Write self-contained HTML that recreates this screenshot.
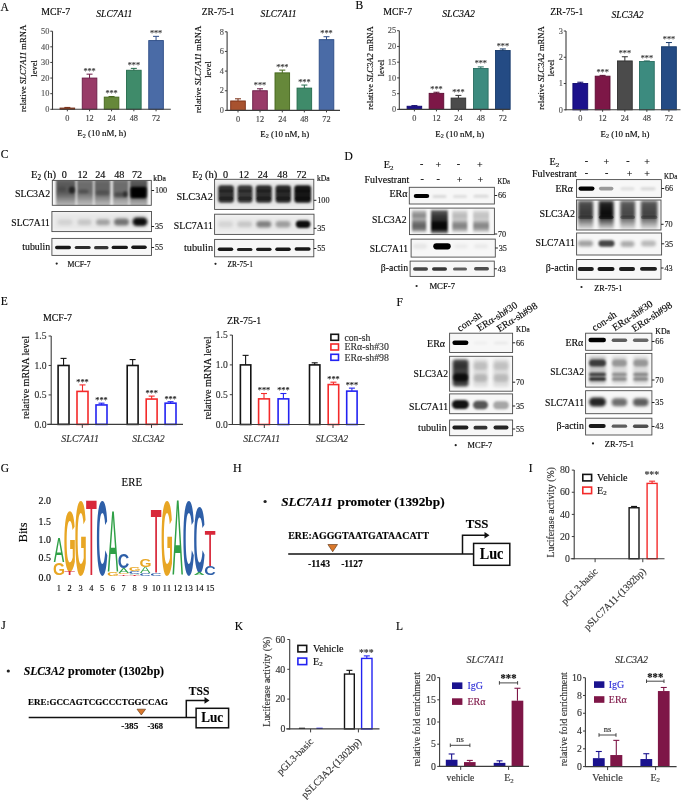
<!DOCTYPE html>
<html><head><meta charset="utf-8"><title>Figure</title>
<style>
html,body{margin:0;padding:0;background:#fff;width:685px;height:800px;overflow:hidden;}
svg{display:block;filter:blur(0.3px);}
text{font-family:"Liberation Serif", serif;}
</style></head>
<body>
<svg width="685" height="800" viewBox="0 0 685 800">
<defs>
<filter id="b05" x="-50%" y="-50%" width="200%" height="200%"><feGaussianBlur stdDeviation="0.5"/></filter>
<filter id="b1" x="-50%" y="-50%" width="200%" height="200%"><feGaussianBlur stdDeviation="1"/></filter>
<filter id="b15" x="-50%" y="-50%" width="200%" height="200%"><feGaussianBlur stdDeviation="1.5"/></filter>
<filter id="b2" x="-50%" y="-50%" width="200%" height="200%"><feGaussianBlur stdDeviation="2"/></filter>
<filter id="b3" x="-50%" y="-50%" width="200%" height="200%"><feGaussianBlur stdDeviation="3"/></filter>
</defs>
<rect width="685" height="800" fill="#fff"/>
<text x="0.60" y="10.80" font-size="11.5" stroke="#1a1a1a" stroke-width="0.15">A</text>
<text x="41.20" y="14.60" font-size="9.8" stroke="#1a1a1a" stroke-width="0.15">MCF-7</text>
<text x="96.30" y="17.20" font-size="10.8" font-style="italic" textLength="36.10" lengthAdjust="spacingAndGlyphs" stroke="#1a1a1a" stroke-width="0.15">SLC7A11</text>
<rect x="60.05" y="108.05" width="14.60" height="1.25" fill="#A8522F" stroke="#7A2E14" stroke-width="0.9" />
<line x1="67.35" y1="108.05" x2="67.35" y2="107.43" stroke="#7A2E14" stroke-width="1"/>
<line x1="64.35" y1="107.43" x2="70.35" y2="107.43" stroke="#7A2E14" stroke-width="1"/>
<rect x="82.25" y="78.06" width="14.60" height="31.24" fill="#983B68" stroke="#6A1C46" stroke-width="0.9" />
<line x1="89.55" y1="78.06" x2="89.55" y2="74.16" stroke="#6A1C46" stroke-width="1"/>
<line x1="86.55" y1="74.16" x2="92.55" y2="74.16" stroke="#6A1C46" stroke-width="1"/>
<text x="89.55" y="73.71" font-size="8.2" text-anchor="middle" fill="#3a3a3a" stroke="#3a3a3a" stroke-width="0.15">***</text>
<rect x="104.25" y="97.12" width="14.60" height="12.18" fill="#66883A" stroke="#44661C" stroke-width="0.9" />
<line x1="111.55" y1="97.12" x2="111.55" y2="96.49" stroke="#44661C" stroke-width="1"/>
<line x1="108.55" y1="96.49" x2="114.55" y2="96.49" stroke="#44661C" stroke-width="1"/>
<text x="111.55" y="96.05" font-size="8.2" text-anchor="middle" fill="#3a3a3a" stroke="#3a3a3a" stroke-width="0.15">***</text>
<rect x="126.55" y="70.25" width="14.60" height="39.05" fill="#3F8B6A" stroke="#236A4B" stroke-width="0.9" />
<line x1="133.85" y1="70.25" x2="133.85" y2="68.38" stroke="#236A4B" stroke-width="1"/>
<line x1="130.85" y1="68.38" x2="136.85" y2="68.38" stroke="#236A4B" stroke-width="1"/>
<text x="133.85" y="67.93" font-size="8.2" text-anchor="middle" fill="#3a3a3a" stroke="#3a3a3a" stroke-width="0.15">***</text>
<rect x="148.75" y="40.57" width="14.60" height="68.73" fill="#4A6BA6" stroke="#2C4C86" stroke-width="0.9" />
<line x1="156.05" y1="40.57" x2="156.05" y2="36.35" stroke="#2C4C86" stroke-width="1"/>
<line x1="153.05" y1="36.35" x2="159.05" y2="36.35" stroke="#2C4C86" stroke-width="1"/>
<text x="156.05" y="35.91" font-size="8.2" text-anchor="middle" fill="#3a3a3a" stroke="#3a3a3a" stroke-width="0.15">***</text>
<line x1="52.50" y1="109.80" x2="52.50" y2="31.20" stroke="#3c3c3c" stroke-width="1.1"/>
<line x1="52.00" y1="109.30" x2="170.80" y2="109.30" stroke="#3c3c3c" stroke-width="1.1"/>
<line x1="50.30" y1="109.30" x2="52.50" y2="109.30" stroke="#3c3c3c" stroke-width="1"/>
<text x="49.30" y="112.04" font-size="8.3" text-anchor="end" fill="#555" stroke="#555" stroke-width="0.15">0</text>
<line x1="50.30" y1="93.68" x2="52.50" y2="93.68" stroke="#3c3c3c" stroke-width="1"/>
<text x="49.30" y="96.42" font-size="8.3" text-anchor="end" fill="#555" stroke="#555" stroke-width="0.15">10</text>
<line x1="50.30" y1="78.06" x2="52.50" y2="78.06" stroke="#3c3c3c" stroke-width="1"/>
<text x="49.30" y="80.80" font-size="8.3" text-anchor="end" fill="#555" stroke="#555" stroke-width="0.15">20</text>
<line x1="50.30" y1="62.44" x2="52.50" y2="62.44" stroke="#3c3c3c" stroke-width="1"/>
<text x="49.30" y="65.18" font-size="8.3" text-anchor="end" fill="#555" stroke="#555" stroke-width="0.15">30</text>
<line x1="50.30" y1="46.82" x2="52.50" y2="46.82" stroke="#3c3c3c" stroke-width="1"/>
<text x="49.30" y="49.56" font-size="8.3" text-anchor="end" fill="#555" stroke="#555" stroke-width="0.15">40</text>
<line x1="50.30" y1="31.20" x2="52.50" y2="31.20" stroke="#3c3c3c" stroke-width="1"/>
<text x="49.30" y="33.94" font-size="8.3" text-anchor="end" fill="#555" stroke="#555" stroke-width="0.15">50</text>
<line x1="67.35" y1="109.30" x2="67.35" y2="111.30" stroke="#3c3c3c" stroke-width="1"/>
<text x="67.35" y="120.90" font-size="8.3" text-anchor="middle" fill="#444" stroke="#444" stroke-width="0.15">0</text>
<line x1="89.55" y1="109.30" x2="89.55" y2="111.30" stroke="#3c3c3c" stroke-width="1"/>
<text x="89.55" y="120.90" font-size="8.3" text-anchor="middle" fill="#444" stroke="#444" stroke-width="0.15">12</text>
<line x1="111.55" y1="109.30" x2="111.55" y2="111.30" stroke="#3c3c3c" stroke-width="1"/>
<text x="111.55" y="120.90" font-size="8.3" text-anchor="middle" fill="#444" stroke="#444" stroke-width="0.15">24</text>
<line x1="133.85" y1="109.30" x2="133.85" y2="111.30" stroke="#3c3c3c" stroke-width="1"/>
<text x="133.85" y="120.90" font-size="8.3" text-anchor="middle" fill="#444" stroke="#444" stroke-width="0.15">48</text>
<line x1="156.05" y1="109.30" x2="156.05" y2="111.30" stroke="#3c3c3c" stroke-width="1"/>
<text x="156.05" y="120.90" font-size="8.3" text-anchor="middle" fill="#444" stroke="#444" stroke-width="0.15">72</text>
<text x="26.40" y="68.40" font-size="8.6" text-anchor="middle" transform="rotate(-90 26.40 68.40)" stroke="#1a1a1a" stroke-width="0.15">relative <tspan font-style="italic">SLC7A11</tspan> mRNA</text>
<text x="37.20" y="68.40" font-size="8.6" text-anchor="middle" transform="rotate(-90 37.20 68.40)" stroke="#1a1a1a" stroke-width="0.15">level</text>
<text x="101.80" y="136.30" font-size="8.9" text-anchor="middle" stroke="#1a1a1a" stroke-width="0.15">E<tspan font-size="6.05" dy="1.51">2</tspan><tspan dy="-1.51"> (10 nM, h)</tspan></text>
<text x="201.80" y="15.40" font-size="9.8" textLength="32.80" lengthAdjust="spacingAndGlyphs" stroke="#1a1a1a" stroke-width="0.15">ZR-75-1</text>
<text x="260.60" y="17.40" font-size="10.8" font-style="italic" textLength="36.00" lengthAdjust="spacingAndGlyphs" stroke="#1a1a1a" stroke-width="0.15">SLC7A11</text>
<rect x="230.70" y="100.97" width="14.60" height="9.43" fill="#A8522F" stroke="#7A2E14" stroke-width="0.9" />
<line x1="238.00" y1="100.97" x2="238.00" y2="98.81" stroke="#7A2E14" stroke-width="1"/>
<line x1="235.00" y1="98.81" x2="241.00" y2="98.81" stroke="#7A2E14" stroke-width="1"/>
<rect x="252.70" y="90.75" width="14.60" height="19.65" fill="#983B68" stroke="#6A1C46" stroke-width="0.9" />
<line x1="260.00" y1="90.75" x2="260.00" y2="88.78" stroke="#6A1C46" stroke-width="1"/>
<line x1="257.00" y1="88.78" x2="263.00" y2="88.78" stroke="#6A1C46" stroke-width="1"/>
<text x="260.00" y="88.34" font-size="8.2" text-anchor="middle" fill="#3a3a3a" stroke="#3a3a3a" stroke-width="0.15">***</text>
<rect x="275.00" y="72.87" width="14.60" height="37.53" fill="#66883A" stroke="#44661C" stroke-width="0.9" />
<line x1="282.30" y1="72.87" x2="282.30" y2="70.12" stroke="#44661C" stroke-width="1"/>
<line x1="279.30" y1="70.12" x2="285.30" y2="70.12" stroke="#44661C" stroke-width="1"/>
<text x="282.30" y="69.67" font-size="8.2" text-anchor="middle" fill="#3a3a3a" stroke="#3a3a3a" stroke-width="0.15">***</text>
<rect x="297.05" y="88.10" width="14.60" height="22.30" fill="#3F8B6A" stroke="#236A4B" stroke-width="0.9" />
<line x1="304.35" y1="88.10" x2="304.35" y2="85.05" stroke="#236A4B" stroke-width="1"/>
<line x1="301.35" y1="85.05" x2="307.35" y2="85.05" stroke="#236A4B" stroke-width="1"/>
<text x="304.35" y="84.61" font-size="8.2" text-anchor="middle" fill="#3a3a3a" stroke="#3a3a3a" stroke-width="0.15">***</text>
<rect x="319.20" y="39.66" width="14.60" height="70.74" fill="#4A6BA6" stroke="#2C4C86" stroke-width="0.9" />
<line x1="326.50" y1="39.66" x2="326.50" y2="36.71" stroke="#2C4C86" stroke-width="1"/>
<line x1="323.50" y1="36.71" x2="329.50" y2="36.71" stroke="#2C4C86" stroke-width="1"/>
<text x="326.50" y="36.27" font-size="8.2" text-anchor="middle" fill="#3a3a3a" stroke="#3a3a3a" stroke-width="0.15">***</text>
<line x1="227.10" y1="110.90" x2="227.10" y2="31.80" stroke="#3c3c3c" stroke-width="1.1"/>
<line x1="226.60" y1="110.40" x2="340.00" y2="110.40" stroke="#3c3c3c" stroke-width="1.1"/>
<line x1="224.90" y1="110.40" x2="227.10" y2="110.40" stroke="#3c3c3c" stroke-width="1"/>
<text x="223.90" y="113.14" font-size="8.3" text-anchor="end" fill="#555" stroke="#555" stroke-width="0.15">0</text>
<line x1="224.90" y1="90.75" x2="227.10" y2="90.75" stroke="#3c3c3c" stroke-width="1"/>
<text x="223.90" y="93.49" font-size="8.3" text-anchor="end" fill="#555" stroke="#555" stroke-width="0.15">2</text>
<line x1="224.90" y1="71.10" x2="227.10" y2="71.10" stroke="#3c3c3c" stroke-width="1"/>
<text x="223.90" y="73.84" font-size="8.3" text-anchor="end" fill="#555" stroke="#555" stroke-width="0.15">4</text>
<line x1="224.90" y1="51.45" x2="227.10" y2="51.45" stroke="#3c3c3c" stroke-width="1"/>
<text x="223.90" y="54.19" font-size="8.3" text-anchor="end" fill="#555" stroke="#555" stroke-width="0.15">6</text>
<line x1="224.90" y1="31.80" x2="227.10" y2="31.80" stroke="#3c3c3c" stroke-width="1"/>
<text x="223.90" y="34.54" font-size="8.3" text-anchor="end" fill="#555" stroke="#555" stroke-width="0.15">8</text>
<line x1="238.00" y1="110.40" x2="238.00" y2="112.40" stroke="#3c3c3c" stroke-width="1"/>
<text x="238.00" y="121.60" font-size="8.3" text-anchor="middle" fill="#444" stroke="#444" stroke-width="0.15">0</text>
<line x1="260.00" y1="110.40" x2="260.00" y2="112.40" stroke="#3c3c3c" stroke-width="1"/>
<text x="260.00" y="121.60" font-size="8.3" text-anchor="middle" fill="#444" stroke="#444" stroke-width="0.15">12</text>
<line x1="282.30" y1="110.40" x2="282.30" y2="112.40" stroke="#3c3c3c" stroke-width="1"/>
<text x="282.30" y="121.60" font-size="8.3" text-anchor="middle" fill="#444" stroke="#444" stroke-width="0.15">24</text>
<line x1="304.35" y1="110.40" x2="304.35" y2="112.40" stroke="#3c3c3c" stroke-width="1"/>
<text x="304.35" y="121.60" font-size="8.3" text-anchor="middle" fill="#444" stroke="#444" stroke-width="0.15">48</text>
<line x1="326.50" y1="110.40" x2="326.50" y2="112.40" stroke="#3c3c3c" stroke-width="1"/>
<text x="326.50" y="121.60" font-size="8.3" text-anchor="middle" fill="#444" stroke="#444" stroke-width="0.15">72</text>
<text x="200.60" y="69.50" font-size="8.6" text-anchor="middle" transform="rotate(-90 200.60 69.50)" stroke="#1a1a1a" stroke-width="0.15">relative <tspan font-style="italic">SLC7A11</tspan> mRNA</text>
<text x="210.90" y="69.50" font-size="8.6" text-anchor="middle" transform="rotate(-90 210.90 69.50)" stroke="#1a1a1a" stroke-width="0.15">level</text>
<text x="284.80" y="136.50" font-size="8.9" text-anchor="middle" stroke="#1a1a1a" stroke-width="0.15">E<tspan font-size="6.05" dy="1.51">2</tspan><tspan dy="-1.51"> (10 nM, h)</tspan></text>
<text x="355.40" y="9.20" font-size="11.5" stroke="#1a1a1a" stroke-width="0.15">B</text>
<text x="383.20" y="15.30" font-size="9.8" stroke="#1a1a1a" stroke-width="0.15">MCF-7</text>
<text x="442.20" y="17.40" font-size="10.8" font-style="italic" textLength="32.70" lengthAdjust="spacingAndGlyphs" stroke="#1a1a1a" stroke-width="0.15">SLC3A2</text>
<rect x="407.10" y="106.25" width="14.60" height="3.15" fill="#1C118C" stroke="#10086E" stroke-width="0.9" />
<line x1="414.40" y1="106.25" x2="414.40" y2="105.62" stroke="#10086E" stroke-width="1"/>
<line x1="411.40" y1="105.62" x2="417.40" y2="105.62" stroke="#10086E" stroke-width="1"/>
<rect x="429.15" y="93.35" width="14.60" height="16.05" fill="#7D1747" stroke="#5C0C32" stroke-width="0.9" />
<line x1="436.45" y1="93.35" x2="436.45" y2="92.24" stroke="#5C0C32" stroke-width="1"/>
<line x1="433.45" y1="92.24" x2="439.45" y2="92.24" stroke="#5C0C32" stroke-width="1"/>
<text x="436.45" y="91.80" font-size="8.2" text-anchor="middle" fill="#3a3a3a" stroke="#3a3a3a" stroke-width="0.15">***</text>
<rect x="451.10" y="98.07" width="14.60" height="11.33" fill="#4B4B4B" stroke="#303030" stroke-width="0.9" />
<line x1="458.40" y1="98.07" x2="458.40" y2="95.39" stroke="#303030" stroke-width="1"/>
<line x1="455.40" y1="95.39" x2="461.40" y2="95.39" stroke="#303030" stroke-width="1"/>
<text x="458.40" y="94.95" font-size="8.2" text-anchor="middle" fill="#3a3a3a" stroke="#3a3a3a" stroke-width="0.15">***</text>
<rect x="473.50" y="68.48" width="14.60" height="40.92" fill="#3C8B7F" stroke="#2A6E62" stroke-width="0.9" />
<line x1="480.80" y1="68.48" x2="480.80" y2="66.90" stroke="#2A6E62" stroke-width="1"/>
<line x1="477.80" y1="66.90" x2="483.80" y2="66.90" stroke="#2A6E62" stroke-width="1"/>
<text x="480.80" y="66.46" font-size="8.2" text-anchor="middle" fill="#3a3a3a" stroke="#3a3a3a" stroke-width="0.15">***</text>
<rect x="495.55" y="50.53" width="14.60" height="58.87" fill="#244B84" stroke="#173A6A" stroke-width="0.9" />
<line x1="502.85" y1="50.53" x2="502.85" y2="48.96" stroke="#173A6A" stroke-width="1"/>
<line x1="499.85" y1="48.96" x2="505.85" y2="48.96" stroke="#173A6A" stroke-width="1"/>
<text x="502.85" y="48.51" font-size="8.2" text-anchor="middle" fill="#3a3a3a" stroke="#3a3a3a" stroke-width="0.15">***</text>
<line x1="399.30" y1="109.90" x2="399.30" y2="30.70" stroke="#3c3c3c" stroke-width="1.1"/>
<line x1="398.80" y1="109.40" x2="509.70" y2="109.40" stroke="#3c3c3c" stroke-width="1.1"/>
<line x1="397.10" y1="109.40" x2="399.30" y2="109.40" stroke="#3c3c3c" stroke-width="1"/>
<text x="396.10" y="112.14" font-size="8.3" text-anchor="end" fill="#555" stroke="#555" stroke-width="0.15">0</text>
<line x1="397.10" y1="93.66" x2="399.30" y2="93.66" stroke="#3c3c3c" stroke-width="1"/>
<text x="396.10" y="96.40" font-size="8.3" text-anchor="end" fill="#555" stroke="#555" stroke-width="0.15">5</text>
<line x1="397.10" y1="77.92" x2="399.30" y2="77.92" stroke="#3c3c3c" stroke-width="1"/>
<text x="396.10" y="80.66" font-size="8.3" text-anchor="end" fill="#555" stroke="#555" stroke-width="0.15">10</text>
<line x1="397.10" y1="62.18" x2="399.30" y2="62.18" stroke="#3c3c3c" stroke-width="1"/>
<text x="396.10" y="64.92" font-size="8.3" text-anchor="end" fill="#555" stroke="#555" stroke-width="0.15">15</text>
<line x1="397.10" y1="46.44" x2="399.30" y2="46.44" stroke="#3c3c3c" stroke-width="1"/>
<text x="396.10" y="49.18" font-size="8.3" text-anchor="end" fill="#555" stroke="#555" stroke-width="0.15">20</text>
<line x1="397.10" y1="30.70" x2="399.30" y2="30.70" stroke="#3c3c3c" stroke-width="1"/>
<text x="396.10" y="33.44" font-size="8.3" text-anchor="end" fill="#555" stroke="#555" stroke-width="0.15">25</text>
<line x1="414.40" y1="109.40" x2="414.40" y2="111.40" stroke="#3c3c3c" stroke-width="1"/>
<text x="414.40" y="120.50" font-size="8.3" text-anchor="middle" fill="#444" stroke="#444" stroke-width="0.15">0</text>
<line x1="436.45" y1="109.40" x2="436.45" y2="111.40" stroke="#3c3c3c" stroke-width="1"/>
<text x="436.45" y="120.50" font-size="8.3" text-anchor="middle" fill="#444" stroke="#444" stroke-width="0.15">12</text>
<line x1="458.40" y1="109.40" x2="458.40" y2="111.40" stroke="#3c3c3c" stroke-width="1"/>
<text x="458.40" y="120.50" font-size="8.3" text-anchor="middle" fill="#444" stroke="#444" stroke-width="0.15">24</text>
<line x1="480.80" y1="109.40" x2="480.80" y2="111.40" stroke="#3c3c3c" stroke-width="1"/>
<text x="480.80" y="120.50" font-size="8.3" text-anchor="middle" fill="#444" stroke="#444" stroke-width="0.15">48</text>
<line x1="502.85" y1="109.40" x2="502.85" y2="111.40" stroke="#3c3c3c" stroke-width="1"/>
<text x="502.85" y="120.50" font-size="8.3" text-anchor="middle" fill="#444" stroke="#444" stroke-width="0.15">72</text>
<text x="372.80" y="68.00" font-size="8.6" text-anchor="middle" transform="rotate(-90 372.80 68.00)" stroke="#1a1a1a" stroke-width="0.15">relative <tspan font-style="italic">SLC3A2</tspan> mRNA</text>
<text x="383.80" y="68.00" font-size="8.6" text-anchor="middle" transform="rotate(-90 383.80 68.00)" stroke="#1a1a1a" stroke-width="0.15">level</text>
<text x="459.80" y="136.70" font-size="8.9" text-anchor="middle" stroke="#1a1a1a" stroke-width="0.15">E<tspan font-size="6.05" dy="1.51">2</tspan><tspan dy="-1.51"> (10 nM, h)</tspan></text>
<text x="550.20" y="15.20" font-size="9.8" textLength="33.10" lengthAdjust="spacingAndGlyphs" stroke="#1a1a1a" stroke-width="0.15">ZR-75-1</text>
<text x="611.40" y="17.90" font-size="10.8" font-style="italic" textLength="32.30" lengthAdjust="spacingAndGlyphs" stroke="#1a1a1a" stroke-width="0.15">SLC3A2</text>
<rect x="572.90" y="83.53" width="14.80" height="26.27" fill="#1C118C" stroke="#10086E" stroke-width="0.9" />
<line x1="580.30" y1="83.53" x2="580.30" y2="82.22" stroke="#10086E" stroke-width="1"/>
<line x1="577.30" y1="82.22" x2="583.30" y2="82.22" stroke="#10086E" stroke-width="1"/>
<rect x="595.20" y="76.18" width="14.80" height="33.62" fill="#7D1747" stroke="#5C0C32" stroke-width="0.9" />
<line x1="602.60" y1="76.18" x2="602.60" y2="75.39" stroke="#5C0C32" stroke-width="1"/>
<line x1="599.60" y1="75.39" x2="605.60" y2="75.39" stroke="#5C0C32" stroke-width="1"/>
<text x="602.60" y="74.94" font-size="8.2" text-anchor="middle" fill="#3a3a3a" stroke="#3a3a3a" stroke-width="0.15">***</text>
<rect x="617.45" y="60.94" width="14.80" height="48.86" fill="#4B4B4B" stroke="#303030" stroke-width="0.9" />
<line x1="624.85" y1="60.94" x2="624.85" y2="56.74" stroke="#303030" stroke-width="1"/>
<line x1="621.85" y1="56.74" x2="627.85" y2="56.74" stroke="#303030" stroke-width="1"/>
<text x="624.85" y="56.30" font-size="8.2" text-anchor="middle" fill="#3a3a3a" stroke="#3a3a3a" stroke-width="0.15">***</text>
<rect x="639.45" y="61.47" width="14.80" height="48.33" fill="#3C8B7F" stroke="#2A6E62" stroke-width="0.9" />
<line x1="646.85" y1="61.47" x2="646.85" y2="60.94" stroke="#2A6E62" stroke-width="1"/>
<line x1="643.85" y1="60.94" x2="649.85" y2="60.94" stroke="#2A6E62" stroke-width="1"/>
<text x="646.85" y="60.50" font-size="8.2" text-anchor="middle" fill="#3a3a3a" stroke="#3a3a3a" stroke-width="0.15">***</text>
<rect x="661.55" y="46.76" width="14.80" height="63.04" fill="#244B84" stroke="#173A6A" stroke-width="0.9" />
<line x1="668.95" y1="46.76" x2="668.95" y2="42.56" stroke="#173A6A" stroke-width="1"/>
<line x1="665.95" y1="42.56" x2="671.95" y2="42.56" stroke="#173A6A" stroke-width="1"/>
<text x="668.95" y="42.11" font-size="8.2" text-anchor="middle" fill="#3a3a3a" stroke="#3a3a3a" stroke-width="0.15">***</text>
<line x1="566.00" y1="110.30" x2="566.00" y2="31.00" stroke="#3c3c3c" stroke-width="1.1"/>
<line x1="565.50" y1="109.80" x2="680.50" y2="109.80" stroke="#3c3c3c" stroke-width="1.1"/>
<line x1="563.80" y1="109.80" x2="566.00" y2="109.80" stroke="#3c3c3c" stroke-width="1"/>
<text x="562.80" y="112.54" font-size="8.3" text-anchor="end" fill="#555" stroke="#555" stroke-width="0.15">0</text>
<line x1="563.80" y1="83.53" x2="566.00" y2="83.53" stroke="#3c3c3c" stroke-width="1"/>
<text x="562.80" y="86.27" font-size="8.3" text-anchor="end" fill="#555" stroke="#555" stroke-width="0.15">1</text>
<line x1="563.80" y1="57.27" x2="566.00" y2="57.27" stroke="#3c3c3c" stroke-width="1"/>
<text x="562.80" y="60.01" font-size="8.3" text-anchor="end" fill="#555" stroke="#555" stroke-width="0.15">2</text>
<line x1="563.80" y1="31.00" x2="566.00" y2="31.00" stroke="#3c3c3c" stroke-width="1"/>
<text x="562.80" y="33.74" font-size="8.3" text-anchor="end" fill="#555" stroke="#555" stroke-width="0.15">3</text>
<line x1="580.30" y1="109.80" x2="580.30" y2="111.80" stroke="#3c3c3c" stroke-width="1"/>
<text x="580.30" y="121.20" font-size="8.3" text-anchor="middle" fill="#444" stroke="#444" stroke-width="0.15">0</text>
<line x1="602.60" y1="109.80" x2="602.60" y2="111.80" stroke="#3c3c3c" stroke-width="1"/>
<text x="602.60" y="121.20" font-size="8.3" text-anchor="middle" fill="#444" stroke="#444" stroke-width="0.15">12</text>
<line x1="624.85" y1="109.80" x2="624.85" y2="111.80" stroke="#3c3c3c" stroke-width="1"/>
<text x="624.85" y="121.20" font-size="8.3" text-anchor="middle" fill="#444" stroke="#444" stroke-width="0.15">24</text>
<line x1="646.85" y1="109.80" x2="646.85" y2="111.80" stroke="#3c3c3c" stroke-width="1"/>
<text x="646.85" y="121.20" font-size="8.3" text-anchor="middle" fill="#444" stroke="#444" stroke-width="0.15">48</text>
<line x1="668.95" y1="109.80" x2="668.95" y2="111.80" stroke="#3c3c3c" stroke-width="1"/>
<text x="668.95" y="121.20" font-size="8.3" text-anchor="middle" fill="#444" stroke="#444" stroke-width="0.15">72</text>
<text x="544.40" y="68.00" font-size="8.6" text-anchor="middle" transform="rotate(-90 544.40 68.00)" stroke="#1a1a1a" stroke-width="0.15">relative <tspan font-style="italic">SLC3A2</tspan> mRNA</text>
<text x="553.60" y="68.00" font-size="8.6" text-anchor="middle" transform="rotate(-90 553.60 68.00)" stroke="#1a1a1a" stroke-width="0.15">level</text>
<text x="625.00" y="136.60" font-size="8.9" text-anchor="middle" stroke="#1a1a1a" stroke-width="0.15">E<tspan font-size="6.05" dy="1.51">2</tspan><tspan dy="-1.51"> (10 nM, h)</tspan></text>
<text x="0.80" y="158.40" font-size="11.5" stroke="#1a1a1a" stroke-width="0.15">C</text>
<text x="31.00" y="178.00" font-size="10.6" stroke="#1a1a1a" stroke-width="0.15">E<tspan font-size="7.21" dy="1.80">2</tspan><tspan dy="-1.80"> (h)</tspan></text>
<text x="64.30" y="178.00" font-size="10.2" text-anchor="middle" stroke="#1a1a1a" stroke-width="0.15">0</text>
<text x="82.50" y="178.00" font-size="10.2" text-anchor="middle" stroke="#1a1a1a" stroke-width="0.15">12</text>
<text x="100.30" y="178.00" font-size="10.2" text-anchor="middle" stroke="#1a1a1a" stroke-width="0.15">24</text>
<text x="119.30" y="178.00" font-size="10.2" text-anchor="middle" stroke="#1a1a1a" stroke-width="0.15">48</text>
<text x="137.00" y="178.00" font-size="10.2" text-anchor="middle" stroke="#1a1a1a" stroke-width="0.15">72</text>
<text x="153.30" y="180.90" font-size="7.8" textLength="12.70" lengthAdjust="spacingAndGlyphs" stroke="#1a1a1a" stroke-width="0.15">kDa</text>
<clipPath id="cl1"><rect x="52.30" y="180.40" width="99.00" height="24.90"/></clipPath>
<g clip-path="url(#cl1)">
<rect x="52.30" y="180.40" width="99.00" height="24.90" fill="#f7f7f7" stroke="none" stroke-width="1" />
<linearGradient id="lg2" x1="0" y1="0" x2="0" y2="1"><stop offset="0.000" stop-color="#000" stop-opacity="0.544"/><stop offset="0.150" stop-color="#000" stop-opacity="0.640"/><stop offset="0.500" stop-color="#000" stop-opacity="0.640"/><stop offset="0.650" stop-color="#000" stop-opacity="0.512"/><stop offset="0.820" stop-color="#000" stop-opacity="0.352"/><stop offset="1.000" stop-color="#000" stop-opacity="0.224"/></linearGradient>
<rect x="56.00" y="179.00" width="19.60" height="28.00" fill="url(#lg2)" filter="url(#b1)"/>
<linearGradient id="lg3" x1="0" y1="0" x2="0" y2="1"><stop offset="0.000" stop-color="#000" stop-opacity="0.476"/><stop offset="0.150" stop-color="#000" stop-opacity="0.560"/><stop offset="0.500" stop-color="#000" stop-opacity="0.560"/><stop offset="0.650" stop-color="#000" stop-opacity="0.448"/><stop offset="0.820" stop-color="#000" stop-opacity="0.308"/><stop offset="1.000" stop-color="#000" stop-opacity="0.196"/></linearGradient>
<rect x="76.90" y="179.00" width="16.30" height="28.00" fill="url(#lg3)" filter="url(#b1)"/>
<linearGradient id="lg4" x1="0" y1="0" x2="0" y2="1"><stop offset="0.000" stop-color="#000" stop-opacity="0.510"/><stop offset="0.150" stop-color="#000" stop-opacity="0.600"/><stop offset="0.500" stop-color="#000" stop-opacity="0.600"/><stop offset="0.650" stop-color="#000" stop-opacity="0.480"/><stop offset="0.820" stop-color="#000" stop-opacity="0.330"/><stop offset="1.000" stop-color="#000" stop-opacity="0.210"/></linearGradient>
<rect x="94.50" y="179.00" width="16.00" height="28.00" fill="url(#lg4)" filter="url(#b1)"/>
<linearGradient id="lg5" x1="0" y1="0" x2="0" y2="1"><stop offset="0.000" stop-color="#000" stop-opacity="0.476"/><stop offset="0.150" stop-color="#000" stop-opacity="0.560"/><stop offset="0.500" stop-color="#000" stop-opacity="0.560"/><stop offset="0.650" stop-color="#000" stop-opacity="0.448"/><stop offset="0.820" stop-color="#000" stop-opacity="0.308"/><stop offset="1.000" stop-color="#000" stop-opacity="0.196"/></linearGradient>
<rect x="112.80" y="179.00" width="15.80" height="28.00" fill="url(#lg5)" filter="url(#b1)"/>
<linearGradient id="lg6" x1="0" y1="0" x2="0" y2="1"><stop offset="0.000" stop-color="#000" stop-opacity="0.561"/><stop offset="0.150" stop-color="#000" stop-opacity="0.660"/><stop offset="0.500" stop-color="#000" stop-opacity="0.660"/><stop offset="0.650" stop-color="#000" stop-opacity="0.528"/><stop offset="0.820" stop-color="#000" stop-opacity="0.363"/><stop offset="1.000" stop-color="#000" stop-opacity="0.231"/></linearGradient>
<rect x="129.70" y="179.00" width="17.70" height="28.00" fill="url(#lg6)" filter="url(#b1)"/>
<rect x="68.90" y="186.50" width="6.00" height="7.00" rx="3.00" fill="#000" fill-opacity="0.6" filter="url(#b1)"/>
<rect x="58.00" y="186.50" width="8.00" height="5.00" rx="2.50" fill="#000" fill-opacity="0.15" filter="url(#b1)"/>
<rect x="78.50" y="189.50" width="10.00" height="4.00" rx="2.00" fill="#000" fill-opacity="0.25" filter="url(#b1)"/>
<rect x="96.00" y="190.50" width="13.00" height="5.00" rx="2.50" fill="#000" fill-opacity="0.2" filter="url(#b1)"/>
<rect x="114.20" y="192.50" width="13.00" height="5.00" rx="2.50" fill="#000" fill-opacity="0.35" filter="url(#b1)"/>
<rect x="123.30" y="191.00" width="4.00" height="6.00" rx="2.00" fill="#000" fill-opacity="0.45" filter="url(#b1)"/>
<rect x="130.50" y="186.65" width="16.00" height="11.50" rx="2.00" fill="#000" fill-opacity="0.97" filter="url(#b1)"/>
<rect x="132.50" y="188.40" width="12.00" height="8.00" rx="4.00" fill="#000" fill-opacity="0.6" filter="url(#b05)"/>
</g>
<rect x="52.30" y="180.40" width="99.00" height="24.90" fill="none" stroke="#4a4a4a" stroke-width="0.9" />
<clipPath id="cl7"><rect x="51.90" y="211.50" width="99.60" height="20.10"/></clipPath>
<g clip-path="url(#cl7)">
<rect x="51.90" y="211.50" width="99.60" height="20.10" fill="#f7f7f7" stroke="none" stroke-width="1" />
<rect x="52.00" y="212.50" width="96.00" height="18.00" rx="2.00" fill="#000" fill-opacity="0.06" filter="url(#b2)"/>
<rect x="57.50" y="219.20" width="15.00" height="6.00" rx="3.00" fill="#000" fill-opacity="0.09" filter="url(#b15)"/>
<rect x="77.50" y="219.20" width="14.00" height="6.00" rx="3.00" fill="#000" fill-opacity="0.14" filter="url(#b15)"/>
<rect x="96.00" y="219.20" width="14.00" height="6.00" rx="3.00" fill="#000" fill-opacity="0.3" filter="url(#b15)"/>
<rect x="114.00" y="218.50" width="15.00" height="7.00" rx="3.50" fill="#000" fill-opacity="0.5" filter="url(#b15)"/>
<rect x="132.50" y="217.45" width="15.00" height="8.50" rx="4.25" fill="#000" fill-opacity="0.95" filter="url(#b15)"/>
</g>
<rect x="51.90" y="211.50" width="99.60" height="20.10" fill="none" stroke="#4a4a4a" stroke-width="0.9" />
<clipPath id="cl8"><rect x="51.90" y="238.40" width="99.60" height="17.00"/></clipPath>
<g clip-path="url(#cl8)">
<rect x="51.90" y="238.40" width="99.60" height="17.00" fill="#f7f7f7" stroke="none" stroke-width="1" />
<rect x="55.00" y="245.80" width="16.00" height="3.40" rx="1.70" fill="#000" fill-opacity="0.9" filter="url(#b05)"/>
<rect x="74.70" y="245.90" width="16.00" height="3.20" rx="1.60" fill="#000" fill-opacity="0.82" filter="url(#b05)"/>
<rect x="94.05" y="246.10" width="14.50" height="3.20" rx="1.60" fill="#000" fill-opacity="0.78" filter="url(#b05)"/>
<rect x="111.60" y="245.70" width="16.40" height="3.40" rx="1.70" fill="#000" fill-opacity="0.9" filter="url(#b05)"/>
<rect x="131.25" y="245.45" width="15.50" height="3.50" rx="1.75" fill="#000" fill-opacity="0.9" filter="url(#b05)"/>
</g>
<rect x="51.90" y="238.40" width="99.60" height="17.00" fill="none" stroke="#4a4a4a" stroke-width="0.9" />
<text x="50.20" y="196.90" font-size="11.0" text-anchor="end" textLength="35.30" lengthAdjust="spacingAndGlyphs" stroke="#1a1a1a" stroke-width="0.15">SLC3A2</text>
<text x="49.90" y="225.90" font-size="11.0" text-anchor="end" textLength="38.60" lengthAdjust="spacingAndGlyphs" stroke="#1a1a1a" stroke-width="0.15">SLC7A11</text>
<text x="50.20" y="250.00" font-size="10.6" text-anchor="end" textLength="27.90" lengthAdjust="spacingAndGlyphs" stroke="#1a1a1a" stroke-width="0.15">tubulin</text>
<line x1="151.50" y1="190.50" x2="154.10" y2="190.50" stroke="#222" stroke-width="1.0"/>
<text x="154.90" y="193.21" font-size="8.2" fill="#222" stroke="#222" stroke-width="0.15">100</text>
<line x1="151.50" y1="226.50" x2="154.10" y2="226.50" stroke="#222" stroke-width="1.0"/>
<text x="154.90" y="229.21" font-size="8.2" fill="#222" stroke="#222" stroke-width="0.15">35</text>
<line x1="151.50" y1="247.50" x2="154.10" y2="247.50" stroke="#222" stroke-width="1.0"/>
<text x="154.90" y="250.21" font-size="8.2" fill="#222" stroke="#222" stroke-width="0.15">55</text>
<circle cx="56.70" cy="263.60" r="1.1" fill="#222"/>
<text x="67.60" y="266.60" font-size="7.4" textLength="23.00" lengthAdjust="spacingAndGlyphs" stroke="#1a1a1a" stroke-width="0.15">MCF-7</text>
<text x="192.30" y="177.80" font-size="10.6" stroke="#1a1a1a" stroke-width="0.15">E<tspan font-size="7.21" dy="1.80">2</tspan><tspan dy="-1.80"> (h)</tspan></text>
<text x="225.60" y="177.80" font-size="10.2" text-anchor="middle" stroke="#1a1a1a" stroke-width="0.15">0</text>
<text x="243.90" y="177.80" font-size="10.2" text-anchor="middle" stroke="#1a1a1a" stroke-width="0.15">12</text>
<text x="262.80" y="177.80" font-size="10.2" text-anchor="middle" stroke="#1a1a1a" stroke-width="0.15">24</text>
<text x="282.40" y="177.80" font-size="10.2" text-anchor="middle" stroke="#1a1a1a" stroke-width="0.15">48</text>
<text x="301.60" y="177.80" font-size="10.2" text-anchor="middle" stroke="#1a1a1a" stroke-width="0.15">72</text>
<text x="316.90" y="180.60" font-size="7.8" textLength="12.80" lengthAdjust="spacingAndGlyphs" stroke="#1a1a1a" stroke-width="0.15">kDa</text>
<clipPath id="cl9"><rect x="214.60" y="179.30" width="99.20" height="30.10"/></clipPath>
<g clip-path="url(#cl9)">
<rect x="214.60" y="179.30" width="99.20" height="30.10" fill="#f7f7f7" stroke="none" stroke-width="1" />
<linearGradient id="lg10" x1="0" y1="0" x2="0" y2="1"><stop offset="0.000" stop-color="#000" stop-opacity="0.030"/><stop offset="0.200" stop-color="#000" stop-opacity="0.100"/><stop offset="0.700" stop-color="#000" stop-opacity="0.100"/><stop offset="1.000" stop-color="#000" stop-opacity="0.030"/></linearGradient>
<rect x="214.60" y="181.00" width="99.20" height="28.00" fill="url(#lg10)" filter="url(#b2)"/>
<rect x="218.20" y="185.25" width="15.70" height="17.50" rx="3.00" fill="#000" fill-opacity="0.78" filter="url(#b1)"/>
<rect x="219.20" y="189.50" width="13.70" height="3.00" rx="1.50" fill="#000" fill-opacity="0.25" filter="url(#b05)"/>
<rect x="219.20" y="196.60" width="13.70" height="3.40" rx="1.70" fill="#000" fill-opacity="0.3" filter="url(#b05)"/>
<rect x="237.50" y="185.25" width="15.00" height="17.50" rx="3.00" fill="#000" fill-opacity="0.75" filter="url(#b1)"/>
<rect x="238.50" y="189.50" width="13.00" height="3.00" rx="1.50" fill="#000" fill-opacity="0.25" filter="url(#b05)"/>
<rect x="238.50" y="196.60" width="13.00" height="3.40" rx="1.70" fill="#000" fill-opacity="0.3" filter="url(#b05)"/>
<rect x="255.80" y="185.25" width="16.00" height="17.50" rx="3.00" fill="#000" fill-opacity="0.8" filter="url(#b1)"/>
<rect x="256.80" y="189.50" width="14.00" height="3.00" rx="1.50" fill="#000" fill-opacity="0.25" filter="url(#b05)"/>
<rect x="256.80" y="196.60" width="14.00" height="3.40" rx="1.70" fill="#000" fill-opacity="0.3" filter="url(#b05)"/>
<rect x="275.50" y="185.25" width="15.50" height="17.50" rx="3.00" fill="#000" fill-opacity="0.82" filter="url(#b1)"/>
<rect x="276.50" y="189.50" width="13.50" height="3.00" rx="1.50" fill="#000" fill-opacity="0.25" filter="url(#b05)"/>
<rect x="276.50" y="196.60" width="13.50" height="3.40" rx="1.70" fill="#000" fill-opacity="0.3" filter="url(#b05)"/>
<rect x="294.30" y="185.25" width="16.80" height="17.50" rx="3.00" fill="#000" fill-opacity="0.9" filter="url(#b1)"/>
<rect x="295.30" y="189.50" width="14.80" height="3.00" rx="1.50" fill="#000" fill-opacity="0.25" filter="url(#b05)"/>
<rect x="295.30" y="196.60" width="14.80" height="3.40" rx="1.70" fill="#000" fill-opacity="0.3" filter="url(#b05)"/>
</g>
<rect x="214.60" y="179.30" width="99.20" height="30.10" fill="none" stroke="#4a4a4a" stroke-width="0.9" />
<clipPath id="cl11"><rect x="214.60" y="214.20" width="99.40" height="20.20"/></clipPath>
<g clip-path="url(#cl11)">
<rect x="214.60" y="214.20" width="99.40" height="20.20" fill="#f7f7f7" stroke="none" stroke-width="1" />
<rect x="216.00" y="215.30" width="96.00" height="18.00" rx="2.00" fill="#000" fill-opacity="0.05" filter="url(#b2)"/>
<rect x="218.00" y="221.30" width="15.00" height="6.00" rx="3.00" fill="#000" fill-opacity="0.09" filter="url(#b15)"/>
<rect x="237.20" y="221.30" width="15.00" height="6.00" rx="3.00" fill="#000" fill-opacity="0.15" filter="url(#b15)"/>
<rect x="256.30" y="221.05" width="15.00" height="6.50" rx="3.25" fill="#000" fill-opacity="0.45" filter="url(#b15)"/>
<rect x="275.50" y="221.05" width="15.00" height="6.50" rx="3.25" fill="#000" fill-opacity="0.33" filter="url(#b15)"/>
<rect x="295.80" y="220.60" width="14.60" height="7.40" rx="3.70" fill="#000" fill-opacity="0.95" filter="url(#b1)"/>
</g>
<rect x="214.60" y="214.20" width="99.40" height="20.20" fill="none" stroke="#4a4a4a" stroke-width="0.9" />
<clipPath id="cl12"><rect x="214.60" y="239.40" width="99.20" height="17.40"/></clipPath>
<g clip-path="url(#cl12)">
<rect x="214.60" y="239.40" width="99.20" height="17.40" fill="#f7f7f7" stroke="none" stroke-width="1" />
<rect x="217.75" y="247.60" width="15.50" height="3.40" rx="1.70" fill="#000" fill-opacity="0.9" filter="url(#b05)"/>
<rect x="236.95" y="247.90" width="15.50" height="3.20" rx="1.60" fill="#000" fill-opacity="0.86" filter="url(#b05)"/>
<rect x="256.05" y="247.65" width="15.50" height="3.30" rx="1.65" fill="#000" fill-opacity="0.88" filter="url(#b05)"/>
<rect x="275.25" y="247.50" width="15.50" height="3.40" rx="1.70" fill="#000" fill-opacity="0.9" filter="url(#b05)"/>
<rect x="294.60" y="247.30" width="16.00" height="3.40" rx="1.70" fill="#000" fill-opacity="0.9" filter="url(#b05)"/>
</g>
<rect x="214.60" y="239.40" width="99.20" height="17.40" fill="none" stroke="#4a4a4a" stroke-width="0.9" />
<text x="212.90" y="200.00" font-size="11.3" text-anchor="end" textLength="36.50" lengthAdjust="spacingAndGlyphs" stroke="#1a1a1a" stroke-width="0.15">SLC3A2</text>
<text x="213.00" y="229.10" font-size="11.3" text-anchor="end" textLength="39.20" lengthAdjust="spacingAndGlyphs" stroke="#1a1a1a" stroke-width="0.15">SLC7A11</text>
<text x="213.00" y="250.70" font-size="10.8" text-anchor="end" textLength="29.00" lengthAdjust="spacingAndGlyphs" stroke="#1a1a1a" stroke-width="0.15">tubulin</text>
<line x1="313.80" y1="200.30" x2="316.40" y2="200.30" stroke="#222" stroke-width="1.0"/>
<text x="317.20" y="203.01" font-size="8.2" fill="#222" stroke="#222" stroke-width="0.15">100</text>
<line x1="313.80" y1="228.30" x2="316.40" y2="228.30" stroke="#222" stroke-width="1.0"/>
<text x="317.20" y="231.01" font-size="8.2" fill="#222" stroke="#222" stroke-width="0.15">35</text>
<line x1="313.80" y1="248.50" x2="316.40" y2="248.50" stroke="#222" stroke-width="1.0"/>
<text x="317.20" y="251.21" font-size="8.2" fill="#222" stroke="#222" stroke-width="0.15">55</text>
<circle cx="215.50" cy="263.80" r="1.1" fill="#222"/>
<text x="227.50" y="266.80" font-size="7.4" textLength="25.50" lengthAdjust="spacingAndGlyphs" stroke="#1a1a1a" stroke-width="0.15">ZR-75-1</text>
<text x="344.40" y="159.50" font-size="11.5" stroke="#1a1a1a" stroke-width="0.15">D</text>
<text x="383.80" y="168.10" font-size="10.3" stroke="#1a1a1a" stroke-width="0.15">E<tspan font-size="7.00" dy="1.75">2</tspan><tspan dy="-1.75"></tspan></text>
<text x="364.50" y="182.60" font-size="10.0" textLength="44.80" lengthAdjust="spacingAndGlyphs" stroke="#1a1a1a" stroke-width="0.15">Fulvestrant</text>
<text x="421.70" y="167.35" font-size="10" text-anchor="middle" stroke="#1a1a1a" stroke-width="0.15">-</text>
<text x="438.30" y="168.30" font-size="10" text-anchor="middle" stroke="#1a1a1a" stroke-width="0.15">+</text>
<text x="458.40" y="167.35" font-size="10" text-anchor="middle" stroke="#1a1a1a" stroke-width="0.15">-</text>
<text x="479.70" y="168.30" font-size="10" text-anchor="middle" stroke="#1a1a1a" stroke-width="0.15">+</text>
<text x="422.20" y="181.95" font-size="10" text-anchor="middle" stroke="#1a1a1a" stroke-width="0.15">-</text>
<text x="438.10" y="181.95" font-size="10" text-anchor="middle" stroke="#1a1a1a" stroke-width="0.15">-</text>
<text x="459.50" y="182.90" font-size="10" text-anchor="middle" stroke="#1a1a1a" stroke-width="0.15">+</text>
<text x="480.20" y="182.90" font-size="10" text-anchor="middle" stroke="#1a1a1a" stroke-width="0.15">+</text>
<text x="497.60" y="184.40" font-size="8.3" textLength="12.40" lengthAdjust="spacingAndGlyphs" stroke="#1a1a1a" stroke-width="0.15">KDa</text>
<clipPath id="cl13"><rect x="409.30" y="187.30" width="85.10" height="16.70"/></clipPath>
<g clip-path="url(#cl13)">
<rect x="409.30" y="187.30" width="85.10" height="16.70" fill="#f7f7f7" stroke="none" stroke-width="1" />
<rect x="413.75" y="193.90" width="15.50" height="4.20" rx="2.10" fill="#000" fill-opacity="1.0" filter="url(#b05)"/>
<rect x="432.50" y="195.00" width="14.00" height="3.00" rx="1.50" fill="#000" fill-opacity="0.12" filter="url(#b1)"/>
<rect x="453.00" y="195.00" width="14.00" height="3.00" rx="1.50" fill="#000" fill-opacity="0.1" filter="url(#b1)"/>
<rect x="473.50" y="194.80" width="15.00" height="3.00" rx="1.50" fill="#000" fill-opacity="0.12" filter="url(#b1)"/>
</g>
<rect x="409.30" y="187.30" width="85.10" height="16.70" fill="none" stroke="#4a4a4a" stroke-width="0.9" />
<clipPath id="cl14"><rect x="409.50" y="208.10" width="84.90" height="26.50"/></clipPath>
<g clip-path="url(#cl14)">
<rect x="409.50" y="208.10" width="84.90" height="26.50" fill="#f7f7f7" stroke="none" stroke-width="1" />
<linearGradient id="lg15" x1="0" y1="0" x2="0" y2="1"><stop offset="0.000" stop-color="#000" stop-opacity="0.050"/><stop offset="0.104" stop-color="#000" stop-opacity="0.300"/><stop offset="0.250" stop-color="#000" stop-opacity="0.450"/><stop offset="0.417" stop-color="#000" stop-opacity="0.300"/><stop offset="0.521" stop-color="#000" stop-opacity="0.500"/><stop offset="0.688" stop-color="#000" stop-opacity="0.620"/><stop offset="0.833" stop-color="#000" stop-opacity="0.500"/><stop offset="0.938" stop-color="#000" stop-opacity="0.120"/><stop offset="1.000" stop-color="#000" stop-opacity="0.050"/></linearGradient>
<rect x="412.00" y="209.50" width="14.20" height="24.00" fill="url(#lg15)" filter="url(#b1)"/>
<linearGradient id="lg16" x1="0" y1="0" x2="0" y2="1"><stop offset="0.000" stop-color="#000" stop-opacity="0.200"/><stop offset="0.082" stop-color="#000" stop-opacity="0.650"/><stop offset="0.265" stop-color="#000" stop-opacity="0.780"/><stop offset="0.429" stop-color="#000" stop-opacity="0.820"/><stop offset="0.551" stop-color="#000" stop-opacity="0.970"/><stop offset="0.796" stop-color="#000" stop-opacity="0.970"/><stop offset="0.918" stop-color="#000" stop-opacity="0.600"/><stop offset="1.000" stop-color="#000" stop-opacity="0.200"/></linearGradient>
<rect x="431.00" y="209.50" width="16.80" height="24.50" fill="url(#lg16)" filter="url(#b1)"/>
<linearGradient id="lg17" x1="0" y1="0" x2="0" y2="1"><stop offset="0.000" stop-color="#000" stop-opacity="0.030"/><stop offset="0.146" stop-color="#000" stop-opacity="0.200"/><stop offset="0.271" stop-color="#000" stop-opacity="0.250"/><stop offset="0.438" stop-color="#000" stop-opacity="0.180"/><stop offset="0.562" stop-color="#000" stop-opacity="0.400"/><stop offset="0.688" stop-color="#000" stop-opacity="0.500"/><stop offset="0.833" stop-color="#000" stop-opacity="0.350"/><stop offset="0.938" stop-color="#000" stop-opacity="0.080"/><stop offset="1.000" stop-color="#000" stop-opacity="0.030"/></linearGradient>
<rect x="452.30" y="209.50" width="15.00" height="24.00" fill="url(#lg17)" filter="url(#b1)"/>
<linearGradient id="lg18" x1="0" y1="0" x2="0" y2="1"><stop offset="0.000" stop-color="#000" stop-opacity="0.030"/><stop offset="0.146" stop-color="#000" stop-opacity="0.180"/><stop offset="0.271" stop-color="#000" stop-opacity="0.220"/><stop offset="0.438" stop-color="#000" stop-opacity="0.160"/><stop offset="0.562" stop-color="#000" stop-opacity="0.380"/><stop offset="0.688" stop-color="#000" stop-opacity="0.480"/><stop offset="0.833" stop-color="#000" stop-opacity="0.330"/><stop offset="0.938" stop-color="#000" stop-opacity="0.080"/><stop offset="1.000" stop-color="#000" stop-opacity="0.030"/></linearGradient>
<rect x="473.20" y="209.50" width="15.80" height="24.00" fill="url(#lg18)" filter="url(#b1)"/>
</g>
<rect x="409.50" y="208.10" width="84.90" height="26.50" fill="none" stroke="#4a4a4a" stroke-width="0.9" />
<clipPath id="cl19"><rect x="411.10" y="239.10" width="84.20" height="18.00"/></clipPath>
<g clip-path="url(#cl19)">
<rect x="411.10" y="239.10" width="84.20" height="18.00" fill="#f7f7f7" stroke="none" stroke-width="1" />
<rect x="413.00" y="243.80" width="14.00" height="5.00" rx="2.50" fill="#000" fill-opacity="0.07" filter="url(#b15)"/>
<rect x="433.25" y="243.20" width="17.50" height="6.20" rx="3.10" fill="#000" fill-opacity="1.0" filter="url(#b05)"/>
<rect x="454.00" y="244.30" width="14.00" height="4.00" rx="2.00" fill="#000" fill-opacity="0.05" filter="url(#b15)"/>
<rect x="474.00" y="244.30" width="14.00" height="4.00" rx="2.00" fill="#000" fill-opacity="0.06" filter="url(#b15)"/>
</g>
<rect x="411.10" y="239.10" width="84.20" height="18.00" fill="none" stroke="#4a4a4a" stroke-width="0.9" />
<clipPath id="cl20"><rect x="410.10" y="261.10" width="84.20" height="15.30"/></clipPath>
<g clip-path="url(#cl20)">
<rect x="410.10" y="261.10" width="84.20" height="15.30" fill="#f7f7f7" stroke="none" stroke-width="1" />
<rect x="413.00" y="267.20" width="15.00" height="3.60" rx="1.80" fill="#000" fill-opacity="0.72" filter="url(#b05)"/>
<rect x="432.00" y="267.20" width="15.00" height="3.60" rx="1.80" fill="#000" fill-opacity="0.78" filter="url(#b05)"/>
<rect x="453.00" y="267.40" width="14.00" height="3.20" rx="1.60" fill="#000" fill-opacity="0.62" filter="url(#b05)"/>
<rect x="474.00" y="267.10" width="15.00" height="3.40" rx="1.70" fill="#000" fill-opacity="0.68" filter="url(#b05)"/>
</g>
<rect x="410.10" y="261.10" width="84.20" height="15.30" fill="none" stroke="#4a4a4a" stroke-width="0.9" />
<text x="407.50" y="196.90" font-size="10.3" text-anchor="end" textLength="18.10" lengthAdjust="spacingAndGlyphs" stroke="#1a1a1a" stroke-width="0.15">ERα</text>
<text x="406.50" y="223.00" font-size="11.0" text-anchor="end" textLength="34.40" lengthAdjust="spacingAndGlyphs" stroke="#1a1a1a" stroke-width="0.15">SLC3A2</text>
<text x="408.10" y="251.50" font-size="11.0" text-anchor="end" textLength="38.40" lengthAdjust="spacingAndGlyphs" stroke="#1a1a1a" stroke-width="0.15">SLC7A11</text>
<text x="408.10" y="271.10" font-size="10.6" text-anchor="end" textLength="27.30" lengthAdjust="spacingAndGlyphs" stroke="#1a1a1a" stroke-width="0.15">β-actin</text>
<line x1="494.60" y1="195.50" x2="497.20" y2="195.50" stroke="#222" stroke-width="1.0"/>
<text x="498.00" y="198.21" font-size="8.2" fill="#222" stroke="#222" stroke-width="0.15">66</text>
<line x1="494.60" y1="234.00" x2="497.20" y2="234.00" stroke="#222" stroke-width="1.0"/>
<text x="498.00" y="236.71" font-size="8.2" fill="#222" stroke="#222" stroke-width="0.15">70</text>
<line x1="495.30" y1="248.00" x2="497.90" y2="248.00" stroke="#222" stroke-width="1.0"/>
<text x="498.70" y="250.71" font-size="8.2" fill="#222" stroke="#222" stroke-width="0.15">35</text>
<line x1="494.30" y1="268.80" x2="496.90" y2="268.80" stroke="#222" stroke-width="1.0"/>
<text x="497.70" y="271.51" font-size="8.2" fill="#222" stroke="#222" stroke-width="0.15">43</text>
<circle cx="416.60" cy="286.00" r="1.1" fill="#222"/>
<text x="429.40" y="289.40" font-size="7.4" textLength="25.60" lengthAdjust="spacingAndGlyphs" stroke="#1a1a1a" stroke-width="0.15">MCF-7</text>
<text x="549.50" y="165.20" font-size="10.3" stroke="#1a1a1a" stroke-width="0.15">E<tspan font-size="7.00" dy="1.75">2</tspan><tspan dy="-1.75"></tspan></text>
<text x="532.00" y="176.90" font-size="10.0" textLength="44.90" lengthAdjust="spacingAndGlyphs" stroke="#1a1a1a" stroke-width="0.15">Fulvestrant</text>
<text x="586.40" y="164.25" font-size="10" text-anchor="middle" stroke="#1a1a1a" stroke-width="0.15">-</text>
<text x="606.30" y="165.20" font-size="10" text-anchor="middle" stroke="#1a1a1a" stroke-width="0.15">+</text>
<text x="627.80" y="164.25" font-size="10" text-anchor="middle" stroke="#1a1a1a" stroke-width="0.15">-</text>
<text x="647.00" y="165.20" font-size="10" text-anchor="middle" stroke="#1a1a1a" stroke-width="0.15">+</text>
<text x="586.40" y="175.55" font-size="10" text-anchor="middle" stroke="#1a1a1a" stroke-width="0.15">-</text>
<text x="606.70" y="175.55" font-size="10" text-anchor="middle" stroke="#1a1a1a" stroke-width="0.15">-</text>
<text x="629.60" y="176.50" font-size="10" text-anchor="middle" stroke="#1a1a1a" stroke-width="0.15">+</text>
<text x="647.00" y="176.50" font-size="10" text-anchor="middle" stroke="#1a1a1a" stroke-width="0.15">+</text>
<text x="664.00" y="178.50" font-size="8.0" textLength="13.30" lengthAdjust="spacingAndGlyphs" stroke="#1a1a1a" stroke-width="0.15">KDa</text>
<clipPath id="cl21"><rect x="576.50" y="179.60" width="84.90" height="17.80"/></clipPath>
<g clip-path="url(#cl21)">
<rect x="576.50" y="179.60" width="84.90" height="17.80" fill="#f7f7f7" stroke="none" stroke-width="1" />
<rect x="578.50" y="186.50" width="16.00" height="4.20" rx="2.10" fill="#000" fill-opacity="1.0" filter="url(#b05)"/>
<rect x="598.95" y="186.80" width="14.50" height="3.60" rx="1.80" fill="#000" fill-opacity="0.38" filter="url(#b05)"/>
<rect x="620.50" y="187.30" width="14.00" height="3.00" rx="1.50" fill="#000" fill-opacity="0.1" filter="url(#b1)"/>
<rect x="640.50" y="187.30" width="15.00" height="3.00" rx="1.50" fill="#000" fill-opacity="0.13" filter="url(#b1)"/>
</g>
<rect x="576.50" y="179.60" width="84.90" height="17.80" fill="none" stroke="#4a4a4a" stroke-width="0.9" />
<clipPath id="cl22"><rect x="576.50" y="200.00" width="84.50" height="30.00"/></clipPath>
<g clip-path="url(#cl22)">
<rect x="576.50" y="200.00" width="84.50" height="30.00" fill="#f7f7f7" stroke="none" stroke-width="1" />
<linearGradient id="lg23" x1="0" y1="0" x2="0" y2="1"><stop offset="0.000" stop-color="#000" stop-opacity="0.546"/><stop offset="0.120" stop-color="#000" stop-opacity="0.702"/><stop offset="0.500" stop-color="#000" stop-opacity="0.780"/><stop offset="0.700" stop-color="#000" stop-opacity="0.507"/><stop offset="0.880" stop-color="#000" stop-opacity="0.234"/><stop offset="1.000" stop-color="#000" stop-opacity="0.094"/></linearGradient>
<rect x="578.10" y="200.50" width="15.10" height="29.00" fill="url(#lg23)" filter="url(#b15)"/>
<rect x="578.30" y="215.55" width="14.70" height="3.50" rx="1.75" fill="#000" fill-opacity="0.3" filter="url(#b05)"/>
<linearGradient id="lg24" x1="0" y1="0" x2="0" y2="1"><stop offset="0.000" stop-color="#000" stop-opacity="0.679"/><stop offset="0.120" stop-color="#000" stop-opacity="0.873"/><stop offset="0.500" stop-color="#000" stop-opacity="0.970"/><stop offset="0.700" stop-color="#000" stop-opacity="0.630"/><stop offset="0.880" stop-color="#000" stop-opacity="0.291"/><stop offset="1.000" stop-color="#000" stop-opacity="0.116"/></linearGradient>
<rect x="598.70" y="200.50" width="15.00" height="29.00" fill="url(#lg24)" filter="url(#b15)"/>
<rect x="598.90" y="215.55" width="14.60" height="3.50" rx="1.75" fill="#000" fill-opacity="0.5" filter="url(#b05)"/>
<linearGradient id="lg25" x1="0" y1="0" x2="0" y2="1"><stop offset="0.000" stop-color="#000" stop-opacity="0.504"/><stop offset="0.120" stop-color="#000" stop-opacity="0.648"/><stop offset="0.500" stop-color="#000" stop-opacity="0.720"/><stop offset="0.700" stop-color="#000" stop-opacity="0.468"/><stop offset="0.880" stop-color="#000" stop-opacity="0.216"/><stop offset="1.000" stop-color="#000" stop-opacity="0.086"/></linearGradient>
<rect x="620.20" y="200.50" width="15.00" height="29.00" fill="url(#lg25)" filter="url(#b15)"/>
<rect x="620.40" y="215.55" width="14.60" height="3.50" rx="1.75" fill="#000" fill-opacity="0.3" filter="url(#b05)"/>
<linearGradient id="lg26" x1="0" y1="0" x2="0" y2="1"><stop offset="0.000" stop-color="#000" stop-opacity="0.518"/><stop offset="0.120" stop-color="#000" stop-opacity="0.666"/><stop offset="0.500" stop-color="#000" stop-opacity="0.740"/><stop offset="0.700" stop-color="#000" stop-opacity="0.481"/><stop offset="0.880" stop-color="#000" stop-opacity="0.222"/><stop offset="1.000" stop-color="#000" stop-opacity="0.089"/></linearGradient>
<rect x="640.80" y="200.50" width="16.70" height="29.00" fill="url(#lg26)" filter="url(#b15)"/>
<rect x="641.00" y="215.55" width="16.30" height="3.50" rx="1.75" fill="#000" fill-opacity="0.3" filter="url(#b05)"/>
</g>
<rect x="576.50" y="200.00" width="84.50" height="30.00" fill="none" stroke="#4a4a4a" stroke-width="0.9" />
<clipPath id="cl27"><rect x="576.60" y="233.00" width="85.00" height="22.00"/></clipPath>
<g clip-path="url(#cl27)">
<rect x="576.60" y="233.00" width="85.00" height="22.00" fill="#f7f7f7" stroke="none" stroke-width="1" />
<rect x="578.00" y="240.50" width="15.00" height="6.00" rx="3.00" fill="#000" fill-opacity="0.35" filter="url(#b15)"/>
<rect x="598.50" y="240.25" width="16.00" height="6.50" rx="3.25" fill="#000" fill-opacity="0.72" filter="url(#b1)"/>
<rect x="620.50" y="241.00" width="14.00" height="6.00" rx="3.00" fill="#000" fill-opacity="0.3" filter="url(#b15)"/>
<rect x="641.00" y="240.50" width="15.00" height="6.00" rx="3.00" fill="#000" fill-opacity="0.25" filter="url(#b15)"/>
</g>
<rect x="576.60" y="233.00" width="85.00" height="22.00" fill="none" stroke="#4a4a4a" stroke-width="0.9" />
<clipPath id="cl28"><rect x="576.60" y="259.50" width="84.40" height="19.80"/></clipPath>
<g clip-path="url(#cl28)">
<rect x="576.60" y="259.50" width="84.40" height="19.80" fill="#f7f7f7" stroke="none" stroke-width="1" />
<rect x="577.80" y="267.10" width="16.00" height="3.80" rx="1.90" fill="#000" fill-opacity="0.88" filter="url(#b05)"/>
<rect x="597.50" y="267.00" width="17.00" height="4.00" rx="2.00" fill="#000" fill-opacity="0.9" filter="url(#b05)"/>
<rect x="619.00" y="267.10" width="16.00" height="3.80" rx="1.90" fill="#000" fill-opacity="0.88" filter="url(#b05)"/>
<rect x="640.00" y="266.90" width="17.00" height="3.80" rx="1.90" fill="#000" fill-opacity="0.88" filter="url(#b05)"/>
</g>
<rect x="576.60" y="259.50" width="84.40" height="19.80" fill="none" stroke="#4a4a4a" stroke-width="0.9" />
<text x="572.90" y="192.00" font-size="10.0" text-anchor="end" textLength="17.50" lengthAdjust="spacingAndGlyphs" stroke="#1a1a1a" stroke-width="0.15">ERα</text>
<text x="575.10" y="217.40" font-size="11.0" text-anchor="end" textLength="35.70" lengthAdjust="spacingAndGlyphs" stroke="#1a1a1a" stroke-width="0.15">SLC3A2</text>
<text x="575.00" y="246.40" font-size="11.0" text-anchor="end" textLength="39.50" lengthAdjust="spacingAndGlyphs" stroke="#1a1a1a" stroke-width="0.15">SLC7A11</text>
<text x="573.90" y="271.10" font-size="10.6" text-anchor="end" textLength="28.10" lengthAdjust="spacingAndGlyphs" stroke="#1a1a1a" stroke-width="0.15">β-actin</text>
<line x1="661.60" y1="188.50" x2="664.20" y2="188.50" stroke="#222" stroke-width="1.0"/>
<text x="665.00" y="191.21" font-size="8.2" fill="#222" stroke="#222" stroke-width="0.15">66</text>
<line x1="661.00" y1="224.30" x2="663.60" y2="224.30" stroke="#222" stroke-width="1.0"/>
<text x="664.40" y="227.01" font-size="8.2" fill="#222" stroke="#222" stroke-width="0.15">70</text>
<line x1="661.60" y1="243.80" x2="664.20" y2="243.80" stroke="#222" stroke-width="1.0"/>
<text x="665.00" y="246.51" font-size="8.2" fill="#222" stroke="#222" stroke-width="0.15">35</text>
<line x1="661.00" y1="268.00" x2="663.60" y2="268.00" stroke="#222" stroke-width="1.0"/>
<text x="664.40" y="270.71" font-size="8.2" fill="#222" stroke="#222" stroke-width="0.15">43</text>
<circle cx="581.50" cy="287.00" r="1.1" fill="#222"/>
<text x="594.30" y="290.60" font-size="7.4" textLength="28.10" lengthAdjust="spacingAndGlyphs" stroke="#1a1a1a" stroke-width="0.15">ZR-75-1</text>
<text x="0.80" y="305.30" font-size="11.5" stroke="#1a1a1a" stroke-width="0.15">E</text>
<text x="42.90" y="320.70" font-size="10.0" textLength="29.10" lengthAdjust="spacingAndGlyphs" stroke="#1a1a1a" stroke-width="0.15">MCF-7</text>
<rect x="58.10" y="365.47" width="10.90" height="58.93" fill="none" stroke="#141414" stroke-width="1.6" />
<line x1="63.55" y1="365.47" x2="63.55" y2="358.39" stroke="#141414" stroke-width="1.1"/>
<line x1="60.55" y1="358.39" x2="66.55" y2="358.39" stroke="#141414" stroke-width="1.1"/>
<rect x="77.00" y="391.40" width="11.00" height="33.00" fill="none" stroke="#F42A2A" stroke-width="1.6" />
<line x1="82.50" y1="391.40" x2="82.50" y2="384.91" stroke="#F42A2A" stroke-width="1.1"/>
<line x1="79.50" y1="384.91" x2="85.50" y2="384.91" stroke="#F42A2A" stroke-width="1.1"/>
<text x="82.50" y="384.87" font-size="8.2" text-anchor="middle" fill="#222" stroke="#222" stroke-width="0.15">***</text>
<rect x="96.00" y="404.95" width="11.00" height="19.45" fill="none" stroke="#2323F2" stroke-width="1.6" />
<line x1="101.50" y1="404.95" x2="101.50" y2="403.18" stroke="#2323F2" stroke-width="1.1"/>
<line x1="98.50" y1="403.18" x2="104.50" y2="403.18" stroke="#2323F2" stroke-width="1.1"/>
<text x="101.50" y="403.14" font-size="8.2" text-anchor="middle" fill="#222" stroke="#222" stroke-width="0.15">***</text>
<rect x="127.20" y="365.47" width="10.90" height="58.93" fill="none" stroke="#141414" stroke-width="1.6" />
<line x1="132.65" y1="365.47" x2="132.65" y2="359.57" stroke="#141414" stroke-width="1.1"/>
<line x1="129.65" y1="359.57" x2="135.65" y2="359.57" stroke="#141414" stroke-width="1.1"/>
<rect x="146.20" y="399.06" width="10.90" height="25.34" fill="none" stroke="#F42A2A" stroke-width="1.6" />
<line x1="151.65" y1="399.06" x2="151.65" y2="396.11" stroke="#F42A2A" stroke-width="1.1"/>
<line x1="148.65" y1="396.11" x2="154.65" y2="396.11" stroke="#F42A2A" stroke-width="1.1"/>
<text x="151.65" y="396.07" font-size="8.2" text-anchor="middle" fill="#222" stroke="#222" stroke-width="0.15">***</text>
<rect x="165.10" y="403.18" width="10.90" height="21.22" fill="none" stroke="#2323F2" stroke-width="1.6" />
<line x1="170.55" y1="403.18" x2="170.55" y2="401.71" stroke="#2323F2" stroke-width="1.1"/>
<line x1="167.55" y1="401.71" x2="173.55" y2="401.71" stroke="#2323F2" stroke-width="1.1"/>
<text x="170.55" y="401.66" font-size="8.2" text-anchor="middle" fill="#222" stroke="#222" stroke-width="0.15">***</text>
<line x1="51.20" y1="424.90" x2="51.20" y2="336.00" stroke="#3c3c3c" stroke-width="1.1"/>
<line x1="47.20" y1="424.40" x2="183.00" y2="424.40" stroke="#3c3c3c" stroke-width="1.1"/>
<line x1="48.60" y1="424.40" x2="51.20" y2="424.40" stroke="#3c3c3c" stroke-width="1"/>
<text x="46.50" y="427.57" font-size="9.6" text-anchor="end" fill="#333" textLength="12.00" lengthAdjust="spacingAndGlyphs" stroke="#333" stroke-width="0.15">0.0</text>
<line x1="48.60" y1="394.93" x2="51.20" y2="394.93" stroke="#3c3c3c" stroke-width="1"/>
<text x="46.50" y="398.10" font-size="9.6" text-anchor="end" fill="#333" textLength="12.00" lengthAdjust="spacingAndGlyphs" stroke="#333" stroke-width="0.15">0.5</text>
<line x1="48.60" y1="365.47" x2="51.20" y2="365.47" stroke="#3c3c3c" stroke-width="1"/>
<text x="46.50" y="368.63" font-size="9.6" text-anchor="end" fill="#333" textLength="12.00" lengthAdjust="spacingAndGlyphs" stroke="#333" stroke-width="0.15">1.0</text>
<line x1="48.60" y1="336.00" x2="51.20" y2="336.00" stroke="#3c3c3c" stroke-width="1"/>
<text x="46.50" y="339.17" font-size="9.6" text-anchor="end" fill="#333" textLength="12.00" lengthAdjust="spacingAndGlyphs" stroke="#333" stroke-width="0.15">1.5</text>
<line x1="82.30" y1="424.40" x2="82.30" y2="427.90" stroke="#3c3c3c" stroke-width="1"/>
<line x1="151.50" y1="424.40" x2="151.50" y2="427.90" stroke="#3c3c3c" stroke-width="1"/>
<text x="80.20" y="442.00" font-size="10.0" text-anchor="middle" fill="#333" font-style="italic" textLength="37.80" lengthAdjust="spacingAndGlyphs" stroke="#333" stroke-width="0.15">SLC7A11</text>
<text x="148.50" y="442.00" font-size="10.0" text-anchor="middle" fill="#333" font-style="italic" textLength="32.50" lengthAdjust="spacingAndGlyphs" stroke="#333" stroke-width="0.15">SLC3A2</text>
<text x="28.80" y="377.50" font-size="10.0" text-anchor="middle" textLength="83.00" lengthAdjust="spacingAndGlyphs" transform="rotate(-90 28.80 377.50)" stroke="#1a1a1a" stroke-width="0.15">relative mRNA level</text>
<text x="227.00" y="323.80" font-size="10.0" textLength="34.30" lengthAdjust="spacingAndGlyphs" stroke="#1a1a1a" stroke-width="0.15">ZR-75-1</text>
<rect x="240.40" y="364.90" width="10.40" height="59.60" fill="none" stroke="#141414" stroke-width="1.6" />
<line x1="245.60" y1="364.90" x2="245.60" y2="355.36" stroke="#141414" stroke-width="1.1"/>
<line x1="242.60" y1="355.36" x2="248.60" y2="355.36" stroke="#141414" stroke-width="1.1"/>
<rect x="258.60" y="398.87" width="10.80" height="25.63" fill="none" stroke="#F42A2A" stroke-width="1.6" />
<line x1="264.00" y1="398.87" x2="264.00" y2="393.51" stroke="#F42A2A" stroke-width="1.1"/>
<line x1="261.00" y1="393.51" x2="267.00" y2="393.51" stroke="#F42A2A" stroke-width="1.1"/>
<text x="264.00" y="393.46" font-size="8.2" text-anchor="middle" fill="#222" stroke="#222" stroke-width="0.15">***</text>
<rect x="278.10" y="398.87" width="10.60" height="25.63" fill="none" stroke="#2323F2" stroke-width="1.6" />
<line x1="283.40" y1="398.87" x2="283.40" y2="393.51" stroke="#2323F2" stroke-width="1.1"/>
<line x1="280.40" y1="393.51" x2="286.40" y2="393.51" stroke="#2323F2" stroke-width="1.1"/>
<text x="283.40" y="393.46" font-size="8.2" text-anchor="middle" fill="#222" stroke="#222" stroke-width="0.15">***</text>
<rect x="309.50" y="364.90" width="10.40" height="59.60" fill="none" stroke="#141414" stroke-width="1.6" />
<line x1="314.70" y1="364.90" x2="314.70" y2="362.81" stroke="#141414" stroke-width="1.1"/>
<line x1="311.70" y1="362.81" x2="317.70" y2="362.81" stroke="#141414" stroke-width="1.1"/>
<rect x="328.20" y="384.57" width="10.50" height="39.93" fill="none" stroke="#F42A2A" stroke-width="1.6" />
<line x1="333.45" y1="384.57" x2="333.45" y2="382.18" stroke="#F42A2A" stroke-width="1.1"/>
<line x1="330.45" y1="382.18" x2="336.45" y2="382.18" stroke="#F42A2A" stroke-width="1.1"/>
<text x="333.45" y="382.14" font-size="8.2" text-anchor="middle" fill="#222" stroke="#222" stroke-width="0.15">***</text>
<rect x="346.70" y="391.12" width="10.40" height="33.38" fill="none" stroke="#2323F2" stroke-width="1.6" />
<line x1="351.90" y1="391.12" x2="351.90" y2="388.14" stroke="#2323F2" stroke-width="1.1"/>
<line x1="348.90" y1="388.14" x2="354.90" y2="388.14" stroke="#2323F2" stroke-width="1.1"/>
<text x="351.90" y="388.10" font-size="8.2" text-anchor="middle" fill="#222" stroke="#222" stroke-width="0.15">***</text>
<line x1="232.40" y1="425.00" x2="232.40" y2="335.10" stroke="#3c3c3c" stroke-width="1.1"/>
<line x1="228.40" y1="424.50" x2="364.70" y2="424.50" stroke="#3c3c3c" stroke-width="1.1"/>
<line x1="229.80" y1="424.50" x2="232.40" y2="424.50" stroke="#3c3c3c" stroke-width="1"/>
<text x="227.70" y="427.67" font-size="9.6" text-anchor="end" fill="#333" textLength="12.00" lengthAdjust="spacingAndGlyphs" stroke="#333" stroke-width="0.15">0.0</text>
<line x1="229.80" y1="394.70" x2="232.40" y2="394.70" stroke="#3c3c3c" stroke-width="1"/>
<text x="227.70" y="397.87" font-size="9.6" text-anchor="end" fill="#333" textLength="12.00" lengthAdjust="spacingAndGlyphs" stroke="#333" stroke-width="0.15">0.5</text>
<line x1="229.80" y1="364.90" x2="232.40" y2="364.90" stroke="#3c3c3c" stroke-width="1"/>
<text x="227.70" y="368.07" font-size="9.6" text-anchor="end" fill="#333" textLength="12.00" lengthAdjust="spacingAndGlyphs" stroke="#333" stroke-width="0.15">1.0</text>
<line x1="229.80" y1="335.10" x2="232.40" y2="335.10" stroke="#3c3c3c" stroke-width="1"/>
<text x="227.70" y="338.27" font-size="9.6" text-anchor="end" fill="#333" textLength="12.00" lengthAdjust="spacingAndGlyphs" stroke="#333" stroke-width="0.15">1.5</text>
<line x1="264.30" y1="424.50" x2="264.30" y2="428.00" stroke="#3c3c3c" stroke-width="1"/>
<line x1="333.00" y1="424.50" x2="333.00" y2="428.00" stroke="#3c3c3c" stroke-width="1"/>
<text x="261.70" y="441.80" font-size="10.0" text-anchor="middle" fill="#333" font-style="italic" textLength="37.00" lengthAdjust="spacingAndGlyphs" stroke="#333" stroke-width="0.15">SLC7A11</text>
<text x="332.00" y="441.80" font-size="10.0" text-anchor="middle" fill="#333" font-style="italic" textLength="32.50" lengthAdjust="spacingAndGlyphs" stroke="#333" stroke-width="0.15">SLC3A2</text>
<text x="210.50" y="378.00" font-size="10.0" text-anchor="middle" textLength="83.00" lengthAdjust="spacingAndGlyphs" transform="rotate(-90 210.50 378.00)" stroke="#1a1a1a" stroke-width="0.15">relative mRNA level</text>
<rect x="330.90" y="334.30" width="7.60" height="6.00" fill="none" stroke="#141414" stroke-width="1.6" />
<text x="344.40" y="340.70" font-size="10.0" fill="#333" textLength="26.00" lengthAdjust="spacingAndGlyphs" stroke="#333" stroke-width="0.15">con-sh</text>
<rect x="330.90" y="344.00" width="7.60" height="6.00" fill="none" stroke="#F42A2A" stroke-width="1.6" />
<text x="344.40" y="350.40" font-size="10.0" fill="#333" textLength="44.60" lengthAdjust="spacingAndGlyphs" stroke="#333" stroke-width="0.15">ERα-sh#30</text>
<rect x="330.90" y="354.30" width="7.60" height="6.00" fill="none" stroke="#2323F2" stroke-width="1.6" />
<text x="344.40" y="360.70" font-size="10.0" fill="#333" textLength="44.60" lengthAdjust="spacingAndGlyphs" stroke="#333" stroke-width="0.15">ERα-sh#98</text>
<text x="396.50" y="305.70" font-size="11.5" stroke="#1a1a1a" stroke-width="0.15">F</text>
<text x="459.80" y="331.90" font-size="10.0" textLength="27.50" lengthAdjust="spacingAndGlyphs" transform="rotate(-34 459.80 331.90)" stroke="#1a1a1a" stroke-width="0.15">con-sh</text>
<text x="479.40" y="331.60" font-size="10.0" textLength="46.00" lengthAdjust="spacingAndGlyphs" transform="rotate(-32.5 479.40 331.60)" stroke="#1a1a1a" stroke-width="0.15">ERα-sh#30</text>
<text x="499.40" y="332.20" font-size="10.0" textLength="46.00" lengthAdjust="spacingAndGlyphs" transform="rotate(-32.5 499.40 332.20)" stroke="#1a1a1a" stroke-width="0.15">ERα-sh#98</text>
<text x="516.00" y="331.50" font-size="7.8" textLength="13.60" lengthAdjust="spacingAndGlyphs" stroke="#1a1a1a" stroke-width="0.15">KDa</text>
<clipPath id="cl29"><rect x="449.60" y="333.20" width="63.00" height="19.30"/></clipPath>
<g clip-path="url(#cl29)">
<rect x="449.60" y="333.20" width="63.00" height="19.30" fill="#f7f7f7" stroke="none" stroke-width="1" />
<rect x="452.40" y="340.55" width="16.00" height="4.50" rx="2.25" fill="#000" fill-opacity="1.0" filter="url(#b05)"/>
<rect x="473.50" y="341.50" width="14.00" height="3.00" rx="1.50" fill="#000" fill-opacity="0.03" filter="url(#b1)"/>
<rect x="494.00" y="341.50" width="14.00" height="3.00" rx="1.50" fill="#000" fill-opacity="0.05" filter="url(#b1)"/>
</g>
<rect x="449.60" y="333.20" width="63.00" height="19.30" fill="none" stroke="#4a4a4a" stroke-width="0.9" />
<clipPath id="cl30"><rect x="449.60" y="356.30" width="63.00" height="34.90"/></clipPath>
<g clip-path="url(#cl30)">
<rect x="449.60" y="356.30" width="63.00" height="34.90" fill="#f7f7f7" stroke="none" stroke-width="1" />
<rect x="452.60" y="359.50" width="16.00" height="27.00" rx="3.00" fill="#000" fill-opacity="0.75" filter="url(#b15)"/>
<rect x="453.10" y="373.50" width="15.00" height="8.00" rx="4.00" fill="#000" fill-opacity="0.8" filter="url(#b1)"/>
<rect x="454.10" y="363.50" width="13.00" height="5.00" rx="2.50" fill="#000" fill-opacity="0.2" filter="url(#b1)"/>
<rect x="473.00" y="359.00" width="15.00" height="28.00" rx="3.00" fill="#000" fill-opacity="0.1" filter="url(#b15)"/>
<rect x="493.00" y="359.00" width="16.00" height="28.00" rx="3.00" fill="#000" fill-opacity="0.1" filter="url(#b15)"/>
<rect x="473.50" y="362.00" width="14.00" height="8.00" rx="4.00" fill="#000" fill-opacity="0.14" filter="url(#b15)"/>
<rect x="473.50" y="374.00" width="14.00" height="8.00" rx="4.00" fill="#000" fill-opacity="0.18" filter="url(#b15)"/>
<rect x="493.50" y="362.00" width="15.00" height="8.00" rx="4.00" fill="#000" fill-opacity="0.13" filter="url(#b15)"/>
<rect x="493.50" y="374.00" width="15.00" height="8.00" rx="4.00" fill="#000" fill-opacity="0.16" filter="url(#b15)"/>
</g>
<rect x="449.60" y="356.30" width="63.00" height="34.90" fill="none" stroke="#4a4a4a" stroke-width="0.9" />
<clipPath id="cl31"><rect x="449.60" y="393.90" width="63.00" height="19.80"/></clipPath>
<g clip-path="url(#cl31)">
<rect x="449.60" y="393.90" width="63.00" height="19.80" fill="#f7f7f7" stroke="none" stroke-width="1" />
<rect x="451.90" y="400.00" width="17.00" height="9.00" rx="4.50" fill="#000" fill-opacity="0.92" filter="url(#b1)"/>
<rect x="473.00" y="400.65" width="15.00" height="8.50" rx="4.25" fill="#000" fill-opacity="0.65" filter="url(#b1)"/>
<rect x="493.25" y="401.20" width="15.50" height="8.00" rx="4.00" fill="#000" fill-opacity="0.33" filter="url(#b1)"/>
</g>
<rect x="449.60" y="393.90" width="63.00" height="19.80" fill="none" stroke="#4a4a4a" stroke-width="0.9" />
<clipPath id="cl32"><rect x="449.60" y="420.00" width="63.00" height="15.70"/></clipPath>
<g clip-path="url(#cl32)">
<rect x="449.60" y="420.00" width="63.00" height="15.70" fill="#f7f7f7" stroke="none" stroke-width="1" />
<rect x="452.40" y="425.50" width="16.00" height="4.00" rx="2.00" fill="#000" fill-opacity="0.88" filter="url(#b05)"/>
<rect x="473.50" y="425.80" width="14.00" height="3.80" rx="1.90" fill="#000" fill-opacity="0.8" filter="url(#b05)"/>
<rect x="493.50" y="425.50" width="15.00" height="4.00" rx="2.00" fill="#000" fill-opacity="0.85" filter="url(#b05)"/>
</g>
<rect x="449.60" y="420.00" width="63.00" height="15.70" fill="none" stroke="#4a4a4a" stroke-width="0.9" />
<text x="445.10" y="347.20" font-size="10.0" text-anchor="end" textLength="18.00" lengthAdjust="spacingAndGlyphs" stroke="#1a1a1a" stroke-width="0.15">ERα</text>
<text x="448.00" y="377.40" font-size="11.0" text-anchor="end" textLength="34.40" lengthAdjust="spacingAndGlyphs" stroke="#1a1a1a" stroke-width="0.15">SLC3A2</text>
<text x="448.00" y="409.80" font-size="11.0" text-anchor="end" textLength="38.90" lengthAdjust="spacingAndGlyphs" stroke="#1a1a1a" stroke-width="0.15">SLC7A11</text>
<text x="446.70" y="431.00" font-size="10.6" text-anchor="end" textLength="28.60" lengthAdjust="spacingAndGlyphs" stroke="#1a1a1a" stroke-width="0.15">tubulin</text>
<line x1="512.60" y1="342.80" x2="515.20" y2="342.80" stroke="#222" stroke-width="1.0"/>
<text x="516.00" y="345.51" font-size="8.2" fill="#222" stroke="#222" stroke-width="0.15">66</text>
<line x1="512.60" y1="382.20" x2="515.20" y2="382.20" stroke="#222" stroke-width="1.0"/>
<text x="516.00" y="384.91" font-size="8.2" fill="#222" stroke="#222" stroke-width="0.15">70</text>
<line x1="512.60" y1="406.00" x2="515.20" y2="406.00" stroke="#222" stroke-width="1.0"/>
<text x="516.00" y="408.71" font-size="8.2" fill="#222" stroke="#222" stroke-width="0.15">35</text>
<line x1="512.60" y1="429.00" x2="515.20" y2="429.00" stroke="#222" stroke-width="1.0"/>
<text x="516.00" y="431.71" font-size="8.2" fill="#222" stroke="#222" stroke-width="0.15">55</text>
<circle cx="455.70" cy="445.20" r="1.1" fill="#222"/>
<text x="467.60" y="448.40" font-size="7.4" textLength="24.70" lengthAdjust="spacingAndGlyphs" stroke="#1a1a1a" stroke-width="0.15">MCF-7</text>
<text x="594.60" y="331.60" font-size="10.0" textLength="27.50" lengthAdjust="spacingAndGlyphs" transform="rotate(-34 594.60 331.60)" stroke="#1a1a1a" stroke-width="0.15">con-sh</text>
<text x="615.00" y="331.30" font-size="10.0" textLength="46.50" lengthAdjust="spacingAndGlyphs" transform="rotate(-34 615.00 331.30)" stroke="#1a1a1a" stroke-width="0.15">ERα-sh#30</text>
<text x="634.60" y="332.00" font-size="10.0" textLength="46.00" lengthAdjust="spacingAndGlyphs" transform="rotate(-33.5 634.60 332.00)" stroke="#1a1a1a" stroke-width="0.15">ERα-sh#98</text>
<text x="655.30" y="333.80" font-size="7.6" textLength="14.70" lengthAdjust="spacingAndGlyphs" stroke="#1a1a1a" stroke-width="0.15">KDa</text>
<clipPath id="cl33"><rect x="585.60" y="333.20" width="66.30" height="17.10"/></clipPath>
<g clip-path="url(#cl33)">
<rect x="585.60" y="333.20" width="66.30" height="17.10" fill="#f7f7f7" stroke="none" stroke-width="1" />
<rect x="588.45" y="337.80" width="17.50" height="4.40" rx="2.20" fill="#000" fill-opacity="1.0" filter="url(#b05)"/>
<rect x="611.65" y="338.60" width="15.50" height="3.40" rx="1.70" fill="#000" fill-opacity="0.62" filter="url(#b05)"/>
<rect x="632.95" y="338.60" width="15.50" height="3.40" rx="1.70" fill="#000" fill-opacity="0.58" filter="url(#b05)"/>
</g>
<rect x="585.60" y="333.20" width="66.30" height="17.10" fill="none" stroke="#4a4a4a" stroke-width="0.9" />
<clipPath id="cl34"><rect x="585.60" y="353.40" width="66.30" height="33.70"/></clipPath>
<g clip-path="url(#cl34)">
<rect x="585.60" y="353.40" width="66.30" height="33.70" fill="#f7f7f7" stroke="none" stroke-width="1" />
<rect x="589.00" y="359.50" width="17.00" height="7.00" rx="3.50" fill="#000" fill-opacity="0.7" filter="url(#b1)"/>
<rect x="589.00" y="372.75" width="17.00" height="3.50" rx="1.75" fill="#000" fill-opacity="0.7" filter="url(#b1)"/>
<rect x="589.00" y="377.25" width="17.00" height="3.50" rx="1.75" fill="#000" fill-opacity="0.8" filter="url(#b1)"/>
<rect x="611.90" y="359.50" width="15.00" height="7.00" rx="3.50" fill="#000" fill-opacity="0.3" filter="url(#b1)"/>
<rect x="611.90" y="372.75" width="15.00" height="3.50" rx="1.75" fill="#000" fill-opacity="0.35" filter="url(#b1)"/>
<rect x="611.90" y="377.25" width="15.00" height="3.50" rx="1.75" fill="#000" fill-opacity="0.38" filter="url(#b1)"/>
<rect x="633.20" y="359.50" width="15.00" height="7.00" rx="3.50" fill="#000" fill-opacity="0.3" filter="url(#b1)"/>
<rect x="633.20" y="372.75" width="15.00" height="3.50" rx="1.75" fill="#000" fill-opacity="0.38" filter="url(#b1)"/>
<rect x="633.20" y="377.25" width="15.00" height="3.50" rx="1.75" fill="#000" fill-opacity="0.4" filter="url(#b1)"/>
<rect x="589.00" y="356.00" width="17.00" height="28.00" rx="2.00" fill="#000" fill-opacity="0.2" filter="url(#b15)"/>
<rect x="611.90" y="356.00" width="15.00" height="28.00" rx="2.00" fill="#000" fill-opacity="0.12" filter="url(#b15)"/>
<rect x="633.20" y="356.00" width="15.00" height="28.00" rx="2.00" fill="#000" fill-opacity="0.12" filter="url(#b15)"/>
</g>
<rect x="585.60" y="353.40" width="66.30" height="33.70" fill="none" stroke="#4a4a4a" stroke-width="0.9" />
<clipPath id="cl35"><rect x="585.60" y="390.70" width="66.30" height="23.00"/></clipPath>
<g clip-path="url(#cl35)">
<rect x="585.60" y="390.70" width="66.30" height="23.00" fill="#f7f7f7" stroke="none" stroke-width="1" />
<rect x="589.00" y="397.50" width="17.00" height="9.00" rx="4.50" fill="#000" fill-opacity="0.85" filter="url(#b15)"/>
<rect x="611.65" y="398.30" width="15.50" height="8.00" rx="4.00" fill="#000" fill-opacity="0.55" filter="url(#b15)"/>
<rect x="632.95" y="398.30" width="15.50" height="8.00" rx="4.00" fill="#000" fill-opacity="0.62" filter="url(#b15)"/>
</g>
<rect x="585.60" y="390.70" width="66.30" height="23.00" fill="none" stroke="#4a4a4a" stroke-width="0.9" />
<clipPath id="cl36"><rect x="585.60" y="418.20" width="66.30" height="16.80"/></clipPath>
<g clip-path="url(#cl36)">
<rect x="585.60" y="418.20" width="66.30" height="16.80" fill="#f7f7f7" stroke="none" stroke-width="1" />
<rect x="588.70" y="424.10" width="17.00" height="3.80" rx="1.90" fill="#000" fill-opacity="0.9" filter="url(#b05)"/>
<rect x="611.65" y="424.60" width="15.50" height="3.20" rx="1.60" fill="#000" fill-opacity="0.62" filter="url(#b05)"/>
<rect x="632.95" y="424.50" width="15.50" height="3.40" rx="1.70" fill="#000" fill-opacity="0.68" filter="url(#b05)"/>
</g>
<rect x="585.60" y="418.20" width="66.30" height="16.80" fill="none" stroke="#4a4a4a" stroke-width="0.9" />
<text x="583.30" y="345.90" font-size="10.0" text-anchor="end" textLength="17.90" lengthAdjust="spacingAndGlyphs" stroke="#1a1a1a" stroke-width="0.15">ERα</text>
<text x="584.00" y="375.10" font-size="11.0" text-anchor="end" textLength="33.70" lengthAdjust="spacingAndGlyphs" stroke="#1a1a1a" stroke-width="0.15">SLC3A2</text>
<text x="584.00" y="405.70" font-size="11.0" text-anchor="end" textLength="39.00" lengthAdjust="spacingAndGlyphs" stroke="#1a1a1a" stroke-width="0.15">SLC7A11</text>
<text x="584.00" y="429.10" font-size="10.6" text-anchor="end" textLength="27.60" lengthAdjust="spacingAndGlyphs" stroke="#1a1a1a" stroke-width="0.15">β-actin</text>
<line x1="651.90" y1="341.50" x2="654.50" y2="341.50" stroke="#222" stroke-width="1.0"/>
<text x="655.30" y="344.21" font-size="8.2" fill="#222" stroke="#222" stroke-width="0.15">66</text>
<line x1="651.90" y1="380.00" x2="654.50" y2="380.00" stroke="#222" stroke-width="1.0"/>
<text x="655.30" y="382.71" font-size="8.2" fill="#222" stroke="#222" stroke-width="0.15">70</text>
<line x1="651.90" y1="402.50" x2="654.50" y2="402.50" stroke="#222" stroke-width="1.0"/>
<text x="655.30" y="405.21" font-size="8.2" fill="#222" stroke="#222" stroke-width="0.15">35</text>
<line x1="651.90" y1="426.50" x2="654.50" y2="426.50" stroke="#222" stroke-width="1.0"/>
<text x="655.30" y="429.21" font-size="8.2" fill="#222" stroke="#222" stroke-width="0.15">43</text>
<circle cx="593.00" cy="443.40" r="1.1" fill="#222"/>
<text x="604.70" y="447.20" font-size="8.6" textLength="29.30" lengthAdjust="spacingAndGlyphs" stroke="#1a1a1a" stroke-width="0.15">ZR-75-1</text>
<text x="0.80" y="471.50" font-size="11.5" stroke="#1a1a1a" stroke-width="0.15">G</text>
<text x="121.60" y="486.00" font-size="12.2" textLength="20.40" lengthAdjust="spacingAndGlyphs" stroke="#1a1a1a" stroke-width="0.15">ERE</text>
<text x="27.40" y="532.40" font-size="12.4" text-anchor="middle" textLength="19.60" lengthAdjust="spacingAndGlyphs" transform="rotate(-90 27.40 532.40)" stroke="#1a1a1a" stroke-width="0.15">Bits</text>
<text x="51.00" y="503.63" font-size="9.5" text-anchor="end" textLength="12.40" lengthAdjust="spacingAndGlyphs" stroke="#1a1a1a" stroke-width="0.15">2.0</text>
<text x="51.00" y="524.53" font-size="9.5" text-anchor="end" textLength="12.40" lengthAdjust="spacingAndGlyphs" stroke="#1a1a1a" stroke-width="0.15">1.5</text>
<text x="51.00" y="542.93" font-size="9.5" text-anchor="end" textLength="12.40" lengthAdjust="spacingAndGlyphs" stroke="#1a1a1a" stroke-width="0.15">1.0</text>
<text x="51.00" y="561.43" font-size="9.5" text-anchor="end" textLength="12.40" lengthAdjust="spacingAndGlyphs" stroke="#1a1a1a" stroke-width="0.15">0.5</text>
<text x="51.00" y="581.03" font-size="9.5" text-anchor="end" textLength="12.40" lengthAdjust="spacingAndGlyphs" stroke="#1a1a1a" stroke-width="0.15">0.0</text>
<text transform="matrix(0.00766 0 0 0.01718 53.669 562.200)" font-size="2048" style='font-family:"Liberation Sans", sans-serif' font-weight="normal" fill="#2FA046">A</text>
<text transform="matrix(0.00753 0 0 0.00821 53.068 575.136)" font-size="2048" style='font-family:"Liberation Sans", sans-serif' font-weight="bold" fill="#E8A624">G</text>
<text transform="matrix(0.00753 0 0 0.04166 63.868 570.567)" font-size="2048" style='font-family:"Liberation Sans", sans-serif' font-weight="bold" fill="#E8A624">G</text>
<text transform="matrix(0.00898 0 0 0.00234 64.087 575.300)" font-size="2048" style='font-family:"Liberation Sans", sans-serif' font-weight="normal" fill="#D8283A">T</text>
<text transform="matrix(0.00753 0 0 0.05152 74.668 574.570)" font-size="2048" style='font-family:"Liberation Sans", sans-serif' font-weight="bold" fill="#E8A624">G</text>
<text transform="matrix(0.00898 0 0 0.05231 85.687 575.300)" font-size="2048" style='font-family:"Liberation Sans", sans-serif' font-weight="normal" fill="#D8283A">T</text>
<text transform="matrix(0.00777 0 0 0.05117 96.248 574.577)" font-size="2048" style='font-family:"Liberation Sans", sans-serif' font-weight="bold" fill="#2E5FA8">C</text>
<text transform="matrix(0.00766 0 0 0.04216 107.669 571.800)" font-size="2048" style='font-family:"Liberation Sans", sans-serif' font-weight="normal" fill="#2FA046">A</text>
<text transform="matrix(0.00753 0 0 0.00228 107.068 575.554)" font-size="2048" style='font-family:"Liberation Sans", sans-serif' font-weight="bold" fill="#E8A624">G</text>
<text transform="matrix(0.00777 0 0 0.01000 117.848 567.600)" font-size="2048" style='font-family:"Liberation Sans", sans-serif' font-weight="bold" fill="#2E5FA8">C</text>
<text transform="matrix(0.00766 0 0 0.00341 118.469 572.800)" font-size="2048" style='font-family:"Liberation Sans", sans-serif' font-weight="normal" fill="#2FA046">A</text>
<text transform="matrix(0.00753 0 0 0.00103 117.868 574.479)" font-size="2048" style='font-family:"Liberation Sans", sans-serif' font-weight="bold" fill="#E8A624">G</text>
<text transform="matrix(0.00898 0 0 0.00071 118.087 575.600)" font-size="2048" style='font-family:"Liberation Sans", sans-serif' font-weight="normal" fill="#D8283A">T</text>
<text transform="matrix(0.00753 0 0 0.00276 128.668 571.245)" font-size="2048" style='font-family:"Liberation Sans", sans-serif' font-weight="bold" fill="#E8A624">G</text>
<text transform="matrix(0.00777 0 0 0.00152 128.648 573.870)" font-size="2048" style='font-family:"Liberation Sans", sans-serif' font-weight="bold" fill="#2E5FA8">C</text>
<text transform="matrix(0.00766 0 0 0.00071 129.269 575.000)" font-size="2048" style='font-family:"Liberation Sans", sans-serif' font-weight="normal" fill="#2FA046">A</text>
<text transform="matrix(0.00898 0 0 0.00043 128.887 575.600)" font-size="2048" style='font-family:"Liberation Sans", sans-serif' font-weight="normal" fill="#D8283A">T</text>
<text transform="matrix(0.00753 0 0 0.00545 139.468 566.791)" font-size="2048" style='font-family:"Liberation Sans", sans-serif' font-weight="bold" fill="#E8A624">G</text>
<text transform="matrix(0.00766 0 0 0.00405 140.069 573.000)" font-size="2048" style='font-family:"Liberation Sans", sans-serif' font-weight="normal" fill="#2FA046">A</text>
<text transform="matrix(0.00777 0 0 0.00166 139.448 575.567)" font-size="2048" style='font-family:"Liberation Sans", sans-serif' font-weight="bold" fill="#2E5FA8">C</text>
<text transform="matrix(0.00898 0 0 0.04450 150.487 573.000)" font-size="2048" style='font-family:"Liberation Sans", sans-serif' font-weight="normal" fill="#D8283A">T</text>
<text transform="matrix(0.00777 0 0 0.00179 150.248 575.664)" font-size="2048" style='font-family:"Liberation Sans", sans-serif' font-weight="bold" fill="#2E5FA8">C</text>
<text transform="matrix(0.00753 0 0 0.05179 161.068 574.664)" font-size="2048" style='font-family:"Liberation Sans", sans-serif' font-weight="bold" fill="#E8A624">G</text>
<text transform="matrix(0.00766 0 0 0.05266 172.469 575.400)" font-size="2048" style='font-family:"Liberation Sans", sans-serif' font-weight="normal" fill="#2FA046">A</text>
<text transform="matrix(0.00777 0 0 0.05152 182.648 574.670)" font-size="2048" style='font-family:"Liberation Sans", sans-serif' font-weight="bold" fill="#2E5FA8">C</text>
<text transform="matrix(0.00777 0 0 0.04524 193.448 572.095)" font-size="2048" style='font-family:"Liberation Sans", sans-serif' font-weight="bold" fill="#2E5FA8">C</text>
<text transform="matrix(0.00766 0 0 0.00163 194.069 575.400)" font-size="2048" style='font-family:"Liberation Sans", sans-serif' font-weight="normal" fill="#2FA046">A</text>
<text transform="matrix(0.00898 0 0 0.02413 204.487 565.600)" font-size="2048" style='font-family:"Liberation Sans", sans-serif' font-weight="normal" fill="#D8283A">T</text>
<text transform="matrix(0.00777 0 0 0.00628 204.248 575.174)" font-size="2048" style='font-family:"Liberation Sans", sans-serif' font-weight="bold" fill="#2E5FA8">C</text>
<text x="58.90" y="590.60" font-size="9.0" text-anchor="middle" textLength="4.20" lengthAdjust="spacingAndGlyphs" stroke="#1a1a1a" stroke-width="0.15">1</text>
<text x="69.70" y="590.60" font-size="9.0" text-anchor="middle" textLength="4.20" lengthAdjust="spacingAndGlyphs" stroke="#1a1a1a" stroke-width="0.15">2</text>
<text x="80.50" y="590.60" font-size="9.0" text-anchor="middle" textLength="4.20" lengthAdjust="spacingAndGlyphs" stroke="#1a1a1a" stroke-width="0.15">3</text>
<text x="91.30" y="590.60" font-size="9.0" text-anchor="middle" textLength="4.20" lengthAdjust="spacingAndGlyphs" stroke="#1a1a1a" stroke-width="0.15">4</text>
<text x="102.10" y="590.60" font-size="9.0" text-anchor="middle" textLength="4.20" lengthAdjust="spacingAndGlyphs" stroke="#1a1a1a" stroke-width="0.15">5</text>
<text x="112.90" y="590.60" font-size="9.0" text-anchor="middle" textLength="4.20" lengthAdjust="spacingAndGlyphs" stroke="#1a1a1a" stroke-width="0.15">6</text>
<text x="123.70" y="590.60" font-size="9.0" text-anchor="middle" textLength="4.20" lengthAdjust="spacingAndGlyphs" stroke="#1a1a1a" stroke-width="0.15">7</text>
<text x="134.50" y="590.60" font-size="9.0" text-anchor="middle" textLength="4.20" lengthAdjust="spacingAndGlyphs" stroke="#1a1a1a" stroke-width="0.15">8</text>
<text x="145.30" y="590.60" font-size="9.0" text-anchor="middle" textLength="4.20" lengthAdjust="spacingAndGlyphs" stroke="#1a1a1a" stroke-width="0.15">9</text>
<text x="156.10" y="590.60" font-size="9.0" text-anchor="middle" textLength="8.80" lengthAdjust="spacingAndGlyphs" stroke="#1a1a1a" stroke-width="0.15">10</text>
<text x="166.90" y="590.60" font-size="9.0" text-anchor="middle" textLength="8.80" lengthAdjust="spacingAndGlyphs" stroke="#1a1a1a" stroke-width="0.15">11</text>
<text x="177.70" y="590.60" font-size="9.0" text-anchor="middle" textLength="8.80" lengthAdjust="spacingAndGlyphs" stroke="#1a1a1a" stroke-width="0.15">12</text>
<text x="188.50" y="590.60" font-size="9.0" text-anchor="middle" textLength="8.80" lengthAdjust="spacingAndGlyphs" stroke="#1a1a1a" stroke-width="0.15">13</text>
<text x="199.30" y="590.60" font-size="9.0" text-anchor="middle" textLength="8.80" lengthAdjust="spacingAndGlyphs" stroke="#1a1a1a" stroke-width="0.15">14</text>
<text x="210.10" y="590.60" font-size="9.0" text-anchor="middle" textLength="8.80" lengthAdjust="spacingAndGlyphs" stroke="#1a1a1a" stroke-width="0.15">15</text>
<text x="233.00" y="472.00" font-size="12.0" stroke="#1a1a1a" stroke-width="0.15">H</text>
<circle cx="265.10" cy="501.50" r="1.6" fill="#222"/>
<text x="281.20" y="505.90" font-size="13.2" font-style="italic" font-weight="bold" textLength="51.70" lengthAdjust="spacingAndGlyphs" stroke="#1a1a1a" stroke-width="0.15">SLC7A11</text>
<text x="337.50" y="505.90" font-size="13.2" font-weight="bold" textLength="107.10" lengthAdjust="spacingAndGlyphs" stroke="#1a1a1a" stroke-width="0.15">promoter (1392bp)</text>
<text x="288.20" y="538.70" font-size="10.0" font-weight="bold" textLength="140.80" lengthAdjust="spacingAndGlyphs" stroke="#1a1a1a" stroke-width="0.15">ERE:AGGGTAATGATAACATT</text>
<polygon points="327.90,544.50 337.50,544.50 332.70,551.80" fill="#D9772B" stroke="#5a3010" stroke-width="0.6"/>
<line x1="288.20" y1="553.90" x2="473.60" y2="553.90" stroke="#111" stroke-width="1.5"/>
<polyline points="462.50,553.90 462.50,535.20 485.50,535.20" fill="none" stroke="#111" stroke-width="1.5"/>
<polygon points="484.50,531.90 489.50,535.20 484.50,538.50" fill="#111"/>
<text x="465.70" y="528.20" font-size="13.5" font-weight="bold" textLength="22.80" lengthAdjust="spacingAndGlyphs" stroke="#1a1a1a" stroke-width="0.15">TSS</text>
<rect x="473.60" y="543.40" width="36.20" height="21.90" fill="#fff" stroke="#111" stroke-width="1.5" />
<text x="479.70" y="559.20" font-size="16.0" font-weight="bold" textLength="23.70" lengthAdjust="spacingAndGlyphs" stroke="#1a1a1a" stroke-width="0.15">Luc</text>
<text x="308.00" y="566.70" font-size="9.5" font-weight="bold" textLength="22.20" lengthAdjust="spacingAndGlyphs" stroke="#1a1a1a" stroke-width="0.15">-1143</text>
<text x="341.20" y="566.70" font-size="9.5" font-weight="bold" textLength="21.70" lengthAdjust="spacingAndGlyphs" stroke="#1a1a1a" stroke-width="0.15">-1127</text>
<text x="528.80" y="472.00" font-size="11.5" stroke="#1a1a1a" stroke-width="0.15">I</text>
<rect x="629.10" y="507.76" width="9.90" height="50.94" fill="none" stroke="#141414" stroke-width="1.4" />
<line x1="634.05" y1="507.76" x2="634.05" y2="506.43" stroke="#141414" stroke-width="1.1"/>
<line x1="631.05" y1="506.43" x2="637.05" y2="506.43" stroke="#141414" stroke-width="1.1"/>
<rect x="647.10" y="483.39" width="10.00" height="75.31" fill="none" stroke="#F42A2A" stroke-width="1.4" />
<line x1="652.10" y1="483.39" x2="652.10" y2="481.18" stroke="#F42A2A" stroke-width="1.1"/>
<line x1="649.10" y1="481.18" x2="655.10" y2="481.18" stroke="#F42A2A" stroke-width="1.1"/>
<line x1="574.20" y1="559.20" x2="574.20" y2="470.10" stroke="#3c3c3c" stroke-width="1.1"/>
<line x1="570.70" y1="558.70" x2="664.50" y2="558.70" stroke="#3c3c3c" stroke-width="1.1"/>
<line x1="571.80" y1="558.70" x2="574.20" y2="558.70" stroke="#3c3c3c" stroke-width="1"/>
<text x="569.80" y="561.90" font-size="9.7" text-anchor="end" fill="#333" textLength="4.90" lengthAdjust="spacingAndGlyphs" stroke="#333" stroke-width="0.15">0</text>
<line x1="571.80" y1="536.55" x2="574.20" y2="536.55" stroke="#3c3c3c" stroke-width="1"/>
<text x="569.80" y="539.75" font-size="9.7" text-anchor="end" fill="#333" textLength="9.90" lengthAdjust="spacingAndGlyphs" stroke="#333" stroke-width="0.15">20</text>
<line x1="571.80" y1="514.40" x2="574.20" y2="514.40" stroke="#3c3c3c" stroke-width="1"/>
<text x="569.80" y="517.60" font-size="9.7" text-anchor="end" fill="#333" textLength="9.90" lengthAdjust="spacingAndGlyphs" stroke="#333" stroke-width="0.15">40</text>
<line x1="571.80" y1="492.25" x2="574.20" y2="492.25" stroke="#3c3c3c" stroke-width="1"/>
<text x="569.80" y="495.45" font-size="9.7" text-anchor="end" fill="#333" textLength="9.90" lengthAdjust="spacingAndGlyphs" stroke="#333" stroke-width="0.15">60</text>
<line x1="571.80" y1="470.10" x2="574.20" y2="470.10" stroke="#3c3c3c" stroke-width="1"/>
<text x="569.80" y="473.30" font-size="9.7" text-anchor="end" fill="#333" textLength="9.90" lengthAdjust="spacingAndGlyphs" stroke="#333" stroke-width="0.15">80</text>
<line x1="595.10" y1="558.70" x2="595.10" y2="562.20" stroke="#3c3c3c" stroke-width="1"/>
<line x1="642.80" y1="558.70" x2="642.80" y2="562.20" stroke="#3c3c3c" stroke-width="1"/>
<text x="651.80" y="478.01" font-size="9.8" text-anchor="middle" fill="#333" stroke="#333" stroke-width="0.15">***</text>
<rect x="582.80" y="474.40" width="8.80" height="6.50" fill="none" stroke="#141414" stroke-width="1.6" />
<text x="597.00" y="480.80" font-size="10.2" textLength="30.60" lengthAdjust="spacingAndGlyphs" stroke="#1a1a1a" stroke-width="0.15">Vehicle</text>
<rect x="582.80" y="487.10" width="8.80" height="6.50" fill="none" stroke="#F42A2A" stroke-width="1.6" />
<text x="597.00" y="493.50" font-size="10.2" stroke="#1a1a1a" stroke-width="0.15">E<tspan font-size="6.94" dy="1.73">2</tspan><tspan dy="-1.73"></tspan></text>
<text x="554.00" y="512.30" font-size="10.0" text-anchor="middle" fill="#333" textLength="90.30" lengthAdjust="spacingAndGlyphs" transform="rotate(-90 554.00 512.30)" stroke="#333" stroke-width="0.15">Luciferase activity (%)</text>
<text x="598.50" y="572.00" font-size="10.0" text-anchor="end" fill="#333" textLength="47.00" lengthAdjust="spacingAndGlyphs" transform="rotate(-45 598.50 572.00)" stroke="#333" stroke-width="0.15">pGL3-basic</text>
<text x="646.50" y="572.00" font-size="10.0" text-anchor="end" fill="#333" textLength="83.00" lengthAdjust="spacingAndGlyphs" transform="rotate(-45 646.50 572.00)" stroke="#333" stroke-width="0.15">pSLC7A11-(1392bp)</text>
<text x="1.20" y="628.80" font-size="11.5" stroke="#1a1a1a" stroke-width="0.15">J</text>
<circle cx="8.30" cy="671.00" r="1.6" fill="#222"/>
<text x="23.70" y="674.50" font-size="12.6" font-style="italic" font-weight="bold" textLength="40.80" lengthAdjust="spacingAndGlyphs" stroke="#1a1a1a" stroke-width="0.15">SLC3A2</text>
<text x="68.00" y="674.50" font-size="12.6" font-weight="bold" textLength="96.00" lengthAdjust="spacingAndGlyphs" stroke="#1a1a1a" stroke-width="0.15">promoter (1302bp)</text>
<text x="28.00" y="704.60" font-size="9.0" font-weight="bold" textLength="140.00" lengthAdjust="spacingAndGlyphs" stroke="#1a1a1a" stroke-width="0.15">ERE:GCCAGTCGCCCTGGCCAG</text>
<polygon points="137.00,709.20 145.60,709.20 141.30,715.00" fill="#D9772B" stroke="#5a3010" stroke-width="0.6"/>
<line x1="28.70" y1="717.60" x2="196.10" y2="717.60" stroke="#111" stroke-width="1.5"/>
<polyline points="186.30,717.60 186.30,700.40 205.50,700.40" fill="none" stroke="#111" stroke-width="1.5"/>
<polygon points="204.50,697.10 209.50,700.40 204.50,703.70" fill="#111"/>
<text x="188.80" y="694.60" font-size="12.4" font-weight="bold" textLength="20.70" lengthAdjust="spacingAndGlyphs" stroke="#1a1a1a" stroke-width="0.15">TSS</text>
<rect x="196.10" y="708.30" width="32.50" height="19.50" fill="#fff" stroke="#111" stroke-width="1.5" />
<text x="201.20" y="721.60" font-size="13.8" font-weight="bold" textLength="21.90" lengthAdjust="spacingAndGlyphs" stroke="#1a1a1a" stroke-width="0.15">Luc</text>
<text x="121.30" y="729.30" font-size="9.0" font-weight="bold" textLength="17.00" lengthAdjust="spacingAndGlyphs" stroke="#1a1a1a" stroke-width="0.15">-385</text>
<text x="147.40" y="729.30" font-size="9.0" font-weight="bold" textLength="15.50" lengthAdjust="spacingAndGlyphs" stroke="#1a1a1a" stroke-width="0.15">-368</text>
<text x="234.80" y="630.00" font-size="11.5" stroke="#1a1a1a" stroke-width="0.15">K</text>
<line x1="298.90" y1="728.30" x2="305.10" y2="728.30" stroke="#141414" stroke-width="1.2"/>
<line x1="316.40" y1="728.30" x2="322.70" y2="728.30" stroke="#2323F2" stroke-width="1.2"/>
<rect x="344.50" y="674.07" width="9.80" height="54.83" fill="none" stroke="#141414" stroke-width="1.4" />
<line x1="349.40" y1="674.07" x2="349.40" y2="670.34" stroke="#141414" stroke-width="1.1"/>
<line x1="346.40" y1="670.34" x2="352.40" y2="670.34" stroke="#141414" stroke-width="1.1"/>
<rect x="361.60" y="658.42" width="10.40" height="70.48" fill="none" stroke="#2323F2" stroke-width="1.4" />
<line x1="366.80" y1="658.42" x2="366.80" y2="655.89" stroke="#2323F2" stroke-width="1.1"/>
<line x1="363.80" y1="655.89" x2="369.80" y2="655.89" stroke="#2323F2" stroke-width="1.1"/>
<line x1="289.70" y1="729.40" x2="289.70" y2="639.50" stroke="#3c3c3c" stroke-width="1.1"/>
<line x1="286.20" y1="728.90" x2="379.50" y2="728.90" stroke="#3c3c3c" stroke-width="1.1"/>
<line x1="287.30" y1="728.90" x2="289.70" y2="728.90" stroke="#3c3c3c" stroke-width="1"/>
<text x="285.30" y="732.10" font-size="9.7" text-anchor="end" fill="#333" textLength="4.90" lengthAdjust="spacingAndGlyphs" stroke="#333" stroke-width="0.15">0</text>
<line x1="287.30" y1="699.10" x2="289.70" y2="699.10" stroke="#3c3c3c" stroke-width="1"/>
<text x="285.30" y="702.30" font-size="9.7" text-anchor="end" fill="#333" textLength="9.90" lengthAdjust="spacingAndGlyphs" stroke="#333" stroke-width="0.15">20</text>
<line x1="287.30" y1="669.30" x2="289.70" y2="669.30" stroke="#3c3c3c" stroke-width="1"/>
<text x="285.30" y="672.50" font-size="9.7" text-anchor="end" fill="#333" textLength="9.90" lengthAdjust="spacingAndGlyphs" stroke="#333" stroke-width="0.15">40</text>
<line x1="287.30" y1="639.50" x2="289.70" y2="639.50" stroke="#3c3c3c" stroke-width="1"/>
<text x="285.30" y="642.70" font-size="9.7" text-anchor="end" fill="#333" textLength="9.90" lengthAdjust="spacingAndGlyphs" stroke="#333" stroke-width="0.15">60</text>
<line x1="310.60" y1="728.90" x2="310.60" y2="732.40" stroke="#3c3c3c" stroke-width="1"/>
<line x1="358.40" y1="728.90" x2="358.40" y2="732.40" stroke="#3c3c3c" stroke-width="1"/>
<text x="366.30" y="656.41" font-size="9.8" text-anchor="middle" fill="#333" stroke="#333" stroke-width="0.15">***</text>
<rect x="297.90" y="645.40" width="8.80" height="6.50" fill="none" stroke="#141414" stroke-width="1.6" />
<text x="312.90" y="651.80" font-size="10.2" textLength="30.60" lengthAdjust="spacingAndGlyphs" stroke="#1a1a1a" stroke-width="0.15">Vehicle</text>
<rect x="297.90" y="658.10" width="8.80" height="6.50" fill="none" stroke="#2323F2" stroke-width="1.6" />
<text x="312.90" y="664.50" font-size="10.2" stroke="#1a1a1a" stroke-width="0.15">E<tspan font-size="6.94" dy="1.73">2</tspan><tspan dy="-1.73"></tspan></text>
<text x="270.50" y="681.70" font-size="10.0" text-anchor="middle" fill="#333" textLength="90.20" lengthAdjust="spacingAndGlyphs" transform="rotate(-90 270.50 681.70)" stroke="#333" stroke-width="0.15">Luciferase activity (%)</text>
<text x="314.00" y="742.20" font-size="10.0" text-anchor="end" fill="#333" textLength="47.00" lengthAdjust="spacingAndGlyphs" transform="rotate(-45 314.00 742.20)" stroke="#333" stroke-width="0.15">pGL3-basic</text>
<text x="361.80" y="742.20" font-size="10.0" text-anchor="end" fill="#333" textLength="80.00" lengthAdjust="spacingAndGlyphs" transform="rotate(-45 361.80 742.20)" stroke="#333" stroke-width="0.15">pSLC3A2-(1302bp)</text>
<text x="396.00" y="630.00" font-size="11.5" stroke="#1a1a1a" stroke-width="0.15">L</text>
<rect x="445.80" y="759.74" width="11.70" height="6.66" fill="#1A128E" stroke="none" stroke-width="1" />
<line x1="451.65" y1="759.74" x2="451.65" y2="753.97" stroke="#1A128E" stroke-width="1.1"/>
<line x1="448.65" y1="753.97" x2="454.65" y2="753.97" stroke="#1A128E" stroke-width="1.1"/>
<rect x="464.00" y="762.09" width="11.60" height="4.31" fill="#7E1647" stroke="none" stroke-width="1" />
<line x1="469.80" y1="762.09" x2="469.80" y2="760.41" stroke="#7E1647" stroke-width="1.1"/>
<line x1="466.80" y1="760.41" x2="472.80" y2="760.41" stroke="#7E1647" stroke-width="1.1"/>
<rect x="493.70" y="762.85" width="11.70" height="3.55" fill="#1A128E" stroke="none" stroke-width="1" />
<line x1="499.55" y1="762.85" x2="499.55" y2="760.85" stroke="#1A128E" stroke-width="1.1"/>
<line x1="496.55" y1="760.85" x2="502.55" y2="760.85" stroke="#1A128E" stroke-width="1.1"/>
<rect x="511.60" y="700.69" width="11.70" height="65.71" fill="#7E1647" stroke="none" stroke-width="1" />
<line x1="517.45" y1="700.69" x2="517.45" y2="688.26" stroke="#7E1647" stroke-width="1.1"/>
<line x1="514.45" y1="688.26" x2="520.45" y2="688.26" stroke="#7E1647" stroke-width="1.1"/>
<line x1="439.60" y1="766.90" x2="439.60" y2="677.60" stroke="#3c3c3c" stroke-width="1.1"/>
<line x1="439.10" y1="766.40" x2="529.00" y2="766.40" stroke="#3c3c3c" stroke-width="1.1"/>
<line x1="437.20" y1="766.40" x2="439.60" y2="766.40" stroke="#3c3c3c" stroke-width="1"/>
<text x="436.00" y="769.60" font-size="9.7" text-anchor="end" fill="#333" textLength="4.90" lengthAdjust="spacingAndGlyphs" stroke="#333" stroke-width="0.15">0</text>
<line x1="437.20" y1="744.20" x2="439.60" y2="744.20" stroke="#3c3c3c" stroke-width="1"/>
<text x="436.00" y="747.40" font-size="9.7" text-anchor="end" fill="#333" textLength="4.90" lengthAdjust="spacingAndGlyphs" stroke="#333" stroke-width="0.15">5</text>
<line x1="437.20" y1="722.00" x2="439.60" y2="722.00" stroke="#3c3c3c" stroke-width="1"/>
<text x="436.00" y="725.20" font-size="9.7" text-anchor="end" fill="#333" textLength="9.90" lengthAdjust="spacingAndGlyphs" stroke="#333" stroke-width="0.15">10</text>
<line x1="437.20" y1="699.80" x2="439.60" y2="699.80" stroke="#3c3c3c" stroke-width="1"/>
<text x="436.00" y="703.00" font-size="9.7" text-anchor="end" fill="#333" textLength="9.90" lengthAdjust="spacingAndGlyphs" stroke="#333" stroke-width="0.15">15</text>
<line x1="437.20" y1="677.60" x2="439.60" y2="677.60" stroke="#3c3c3c" stroke-width="1"/>
<text x="436.00" y="680.80" font-size="9.7" text-anchor="end" fill="#333" textLength="9.90" lengthAdjust="spacingAndGlyphs" stroke="#333" stroke-width="0.15">20</text>
<line x1="460.70" y1="766.40" x2="460.70" y2="769.90" stroke="#3c3c3c" stroke-width="1"/>
<line x1="508.60" y1="766.40" x2="508.60" y2="769.90" stroke="#3c3c3c" stroke-width="1"/>
<line x1="450.30" y1="745.30" x2="469.90" y2="745.30" stroke="#333" stroke-width="0.9"/>
<line x1="450.30" y1="743.50" x2="450.30" y2="747.10" stroke="#333" stroke-width="0.9"/>
<line x1="469.90" y1="743.50" x2="469.90" y2="747.10" stroke="#333" stroke-width="0.9"/>
<text x="460.10" y="742.00" font-size="8.6" text-anchor="middle" fill="#333" textLength="7.60" lengthAdjust="spacingAndGlyphs" stroke="#333" stroke-width="0.15">ns</text>
<line x1="499.40" y1="682.90" x2="517.60" y2="682.90" stroke="#333" stroke-width="0.9"/>
<line x1="499.40" y1="681.10" x2="499.40" y2="684.70" stroke="#333" stroke-width="0.9"/>
<line x1="517.60" y1="681.10" x2="517.60" y2="684.70" stroke="#333" stroke-width="0.9"/>
<text x="508.50" y="682.48" font-size="12.5" text-anchor="middle" fill="#111" font-weight="bold" textLength="16.00" lengthAdjust="spacingAndGlyphs" stroke="#111" stroke-width="0.15">***</text>
<rect x="452.00" y="682.40" width="10.40" height="6.60" fill="#1A128E" stroke="none" stroke-width="1" />
<text x="467.40" y="689.10" font-size="10.0" fill="#3434D8" textLength="15.50" lengthAdjust="spacingAndGlyphs" stroke="#3434D8" stroke-width="0.15">IgG</text>
<rect x="452.00" y="698.30" width="10.40" height="6.60" fill="#7E1647" stroke="none" stroke-width="1" />
<text x="467.40" y="705.00" font-size="10.0" fill="#7E1647" textLength="18.00" lengthAdjust="spacingAndGlyphs" stroke="#7E1647" stroke-width="0.15">ERα</text>
<text x="485.30" y="662.70" font-size="10.0" text-anchor="middle" fill="#333" font-style="italic" textLength="37.80" lengthAdjust="spacingAndGlyphs" stroke="#333" stroke-width="0.15">SLC7A11</text>
<text x="420.50" y="719.20" font-size="10.0" text-anchor="middle" fill="#333" textLength="94.40" lengthAdjust="spacingAndGlyphs" transform="rotate(-90 420.50 719.20)" stroke="#333" stroke-width="0.15">relative fold enrichment</text>
<text x="460.50" y="781.30" font-size="10.0" text-anchor="middle" fill="#333" textLength="27.80" lengthAdjust="spacingAndGlyphs" stroke="#333" stroke-width="0.15">vehicle</text>
<text x="509.00" y="781.30" font-size="10.0" text-anchor="middle" fill="#333" stroke="#333" stroke-width="0.15">E<tspan font-size="6.80" dy="1.70">2</tspan><tspan dy="-1.70"></tspan></text>
<rect x="592.90" y="758.15" width="11.80" height="8.45" fill="#1A128E" stroke="none" stroke-width="1" />
<line x1="598.80" y1="758.15" x2="598.80" y2="751.49" stroke="#1A128E" stroke-width="1.1"/>
<line x1="595.80" y1="751.49" x2="601.80" y2="751.49" stroke="#1A128E" stroke-width="1.1"/>
<rect x="610.30" y="755.04" width="12.00" height="11.56" fill="#7E1647" stroke="none" stroke-width="1" />
<line x1="616.30" y1="755.04" x2="616.30" y2="740.37" stroke="#7E1647" stroke-width="1.1"/>
<line x1="613.30" y1="740.37" x2="619.30" y2="740.37" stroke="#7E1647" stroke-width="1.1"/>
<rect x="640.40" y="759.04" width="11.80" height="7.56" fill="#1A128E" stroke="none" stroke-width="1" />
<line x1="646.30" y1="759.04" x2="646.30" y2="753.71" stroke="#1A128E" stroke-width="1.1"/>
<line x1="643.30" y1="753.71" x2="649.30" y2="753.71" stroke="#1A128E" stroke-width="1.1"/>
<rect x="657.90" y="691.04" width="11.70" height="75.56" fill="#7E1647" stroke="none" stroke-width="1" />
<line x1="663.75" y1="691.04" x2="663.75" y2="687.48" stroke="#7E1647" stroke-width="1.1"/>
<line x1="660.75" y1="687.48" x2="666.75" y2="687.48" stroke="#7E1647" stroke-width="1.1"/>
<line x1="585.40" y1="767.10" x2="585.40" y2="677.70" stroke="#3c3c3c" stroke-width="1.1"/>
<line x1="584.90" y1="766.60" x2="676.60" y2="766.60" stroke="#3c3c3c" stroke-width="1.1"/>
<line x1="583.00" y1="766.60" x2="585.40" y2="766.60" stroke="#3c3c3c" stroke-width="1"/>
<text x="581.80" y="769.80" font-size="9.7" text-anchor="end" fill="#333" textLength="4.90" lengthAdjust="spacingAndGlyphs" stroke="#333" stroke-width="0.15">0</text>
<line x1="583.00" y1="748.82" x2="585.40" y2="748.82" stroke="#3c3c3c" stroke-width="1"/>
<text x="581.80" y="752.02" font-size="9.7" text-anchor="end" fill="#333" textLength="4.90" lengthAdjust="spacingAndGlyphs" stroke="#333" stroke-width="0.15">2</text>
<line x1="583.00" y1="731.04" x2="585.40" y2="731.04" stroke="#3c3c3c" stroke-width="1"/>
<text x="581.80" y="734.24" font-size="9.7" text-anchor="end" fill="#333" textLength="4.90" lengthAdjust="spacingAndGlyphs" stroke="#333" stroke-width="0.15">4</text>
<line x1="583.00" y1="713.26" x2="585.40" y2="713.26" stroke="#3c3c3c" stroke-width="1"/>
<text x="581.80" y="716.46" font-size="9.7" text-anchor="end" fill="#333" textLength="4.90" lengthAdjust="spacingAndGlyphs" stroke="#333" stroke-width="0.15">6</text>
<line x1="583.00" y1="695.48" x2="585.40" y2="695.48" stroke="#3c3c3c" stroke-width="1"/>
<text x="581.80" y="698.68" font-size="9.7" text-anchor="end" fill="#333" textLength="4.90" lengthAdjust="spacingAndGlyphs" stroke="#333" stroke-width="0.15">8</text>
<line x1="583.00" y1="677.70" x2="585.40" y2="677.70" stroke="#3c3c3c" stroke-width="1"/>
<text x="581.80" y="680.90" font-size="9.7" text-anchor="end" fill="#333" textLength="9.90" lengthAdjust="spacingAndGlyphs" stroke="#333" stroke-width="0.15">10</text>
<line x1="607.60" y1="766.60" x2="607.60" y2="770.10" stroke="#3c3c3c" stroke-width="1"/>
<line x1="655.60" y1="766.60" x2="655.60" y2="770.10" stroke="#3c3c3c" stroke-width="1"/>
<line x1="599.00" y1="735.00" x2="616.00" y2="735.00" stroke="#333" stroke-width="0.9"/>
<line x1="599.00" y1="733.20" x2="599.00" y2="736.80" stroke="#333" stroke-width="0.9"/>
<line x1="616.00" y1="733.20" x2="616.00" y2="736.80" stroke="#333" stroke-width="0.9"/>
<text x="607.50" y="731.50" font-size="8.6" text-anchor="middle" fill="#333" textLength="7.60" lengthAdjust="spacingAndGlyphs" stroke="#333" stroke-width="0.15">ns</text>
<line x1="646.50" y1="681.20" x2="664.00" y2="681.20" stroke="#333" stroke-width="0.9"/>
<line x1="646.50" y1="679.40" x2="646.50" y2="683.00" stroke="#333" stroke-width="0.9"/>
<line x1="664.00" y1="679.40" x2="664.00" y2="683.00" stroke="#333" stroke-width="0.9"/>
<text x="655.25" y="680.67" font-size="12.5" text-anchor="middle" fill="#111" font-weight="bold" textLength="16.00" lengthAdjust="spacingAndGlyphs" stroke="#111" stroke-width="0.15">***</text>
<rect x="594.00" y="681.30" width="10.40" height="6.60" fill="#1A128E" stroke="none" stroke-width="1" />
<text x="608.80" y="688.00" font-size="10.0" fill="#3434D8" textLength="15.50" lengthAdjust="spacingAndGlyphs" stroke="#3434D8" stroke-width="0.15">IgG</text>
<rect x="594.00" y="696.20" width="10.40" height="6.60" fill="#7E1647" stroke="none" stroke-width="1" />
<text x="608.80" y="702.90" font-size="10.0" fill="#7E1647" textLength="18.00" lengthAdjust="spacingAndGlyphs" stroke="#7E1647" stroke-width="0.15">ERα</text>
<text x="631.50" y="663.00" font-size="10.0" text-anchor="middle" fill="#333" font-style="italic" textLength="33.20" lengthAdjust="spacingAndGlyphs" stroke="#333" stroke-width="0.15">SLC3A2</text>
<text x="567.20" y="719.20" font-size="10.0" text-anchor="middle" fill="#333" textLength="94.00" lengthAdjust="spacingAndGlyphs" transform="rotate(-90 567.20 719.20)" stroke="#333" stroke-width="0.15">relative fold enrichment</text>
<text x="607.50" y="780.70" font-size="10.0" text-anchor="middle" fill="#333" textLength="30.60" lengthAdjust="spacingAndGlyphs" stroke="#333" stroke-width="0.15">Vehicle</text>
<text x="655.20" y="780.70" font-size="10.0" text-anchor="middle" fill="#333" stroke="#333" stroke-width="0.15">E<tspan font-size="6.80" dy="1.70">2</tspan><tspan dy="-1.70"></tspan></text>
</svg>
</body></html>
